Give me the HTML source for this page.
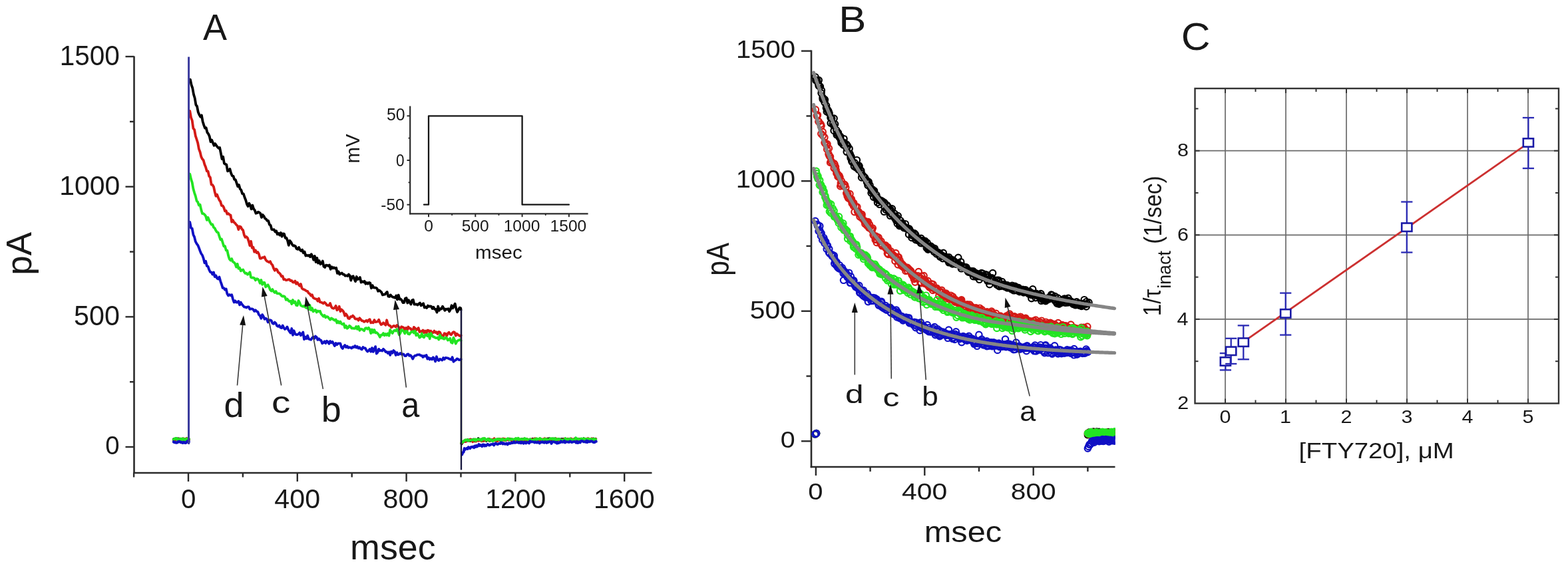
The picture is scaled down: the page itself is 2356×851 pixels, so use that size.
<!DOCTYPE html>
<html><head><meta charset="utf-8"><title>FTY720 inactivation figure</title>
<style>
html,body{margin:0;padding:0;background:#fff;}
body{width:2356px;height:851px;overflow:hidden;}
svg{display:block;}
text{font-family:'Liberation Sans',Arial,sans-serif;}
</style></head>
<body>
<svg width="2356" height="851" viewBox="0 0 2356 851">
<defs><clipPath id="clipB"><rect x="1150" y="0" width="525.6" height="851"/></clipPath></defs>
<rect width="2356" height="851" fill="#fff"/>
<g id="panelA">
<line x1="201.5" y1="84.5" x2="201.5" y2="712" stroke="#2a2a2a" stroke-width="2.6" />
<line x1="200.2" y1="711" x2="979.5" y2="711" stroke="#2a2a2a" stroke-width="2.6" />
<line x1="188.5" y1="672" x2="201.5" y2="672" stroke="#2a2a2a" stroke-width="2.4" />
<line x1="188.5" y1="476.35" x2="201.5" y2="476.35" stroke="#2a2a2a" stroke-width="2.4" />
<line x1="188.5" y1="280.7" x2="201.5" y2="280.7" stroke="#2a2a2a" stroke-width="2.4" />
<line x1="188.5" y1="85.05" x2="201.5" y2="85.05" stroke="#2a2a2a" stroke-width="2.4" />
<line x1="195" y1="574.17" x2="201.5" y2="574.17" stroke="#2a2a2a" stroke-width="2.4" />
<line x1="195" y1="378.53" x2="201.5" y2="378.53" stroke="#2a2a2a" stroke-width="2.4" />
<line x1="195" y1="182.88" x2="201.5" y2="182.88" stroke="#2a2a2a" stroke-width="2.4" />
<line x1="283" y1="711" x2="283" y2="724" stroke="#2a2a2a" stroke-width="2.4" />
<line x1="446.8" y1="711" x2="446.8" y2="724" stroke="#2a2a2a" stroke-width="2.4" />
<line x1="610.6" y1="711" x2="610.6" y2="724" stroke="#2a2a2a" stroke-width="2.4" />
<line x1="774.4" y1="711" x2="774.4" y2="724" stroke="#2a2a2a" stroke-width="2.4" />
<line x1="938.2" y1="711" x2="938.2" y2="724" stroke="#2a2a2a" stroke-width="2.4" />
<line x1="201.1" y1="711" x2="201.1" y2="717.5" stroke="#2a2a2a" stroke-width="2.4" />
<line x1="364.9" y1="711" x2="364.9" y2="717.5" stroke="#2a2a2a" stroke-width="2.4" />
<line x1="528.7" y1="711" x2="528.7" y2="717.5" stroke="#2a2a2a" stroke-width="2.4" />
<line x1="692.5" y1="711" x2="692.5" y2="717.5" stroke="#2a2a2a" stroke-width="2.4" />
<line x1="856.3" y1="711" x2="856.3" y2="717.5" stroke="#2a2a2a" stroke-width="2.4" />
<text transform="matrix(0.9567 0 0 1 89.66 97.68)" font-size="42.40" fill="#181818">1500</text>
<text transform="matrix(0.9888 0 0 1 89.23 292.59)" font-size="41.41" fill="#181818">1000</text>
<text transform="matrix(0.9861 0 0 1 111.05 488.58)" font-size="41.84" fill="#181818">500</text>
<text transform="matrix(1.0042 0 0 1 158.17 682.62)" font-size="38.16" fill="#181818">0</text>
<text transform="matrix(0.9878 0 0 1 271.89 763.89)" font-size="40.71" fill="#181818">0</text>
<text transform="matrix(1.0117 0 0 1 412.37 763.89)" font-size="40.71" fill="#181818">400</text>
<text transform="matrix(1.0000 0 0 1 575.55 764.24)" font-size="41.20" fill="#181818">800</text>
<text transform="matrix(1.0059 0 0 1 729.23 763.89)" font-size="40.71" fill="#181818">1200</text>
<text transform="matrix(1.0129 0 0 1 891.91 763.89)" font-size="40.71" fill="#181818">1600</text>
<text transform="matrix(1.0230 0 0 1 526.07 840.97)" font-size="52.60" fill="#181818">msec</text>
<text transform="matrix(0 -0.9933 1 0 47.39 413.76)" font-size="53.52" fill="#181818">pA</text>
<text transform="matrix(0.9751 0 0 1 305.06 60.20)" font-size="55.42" fill="#181818">A</text>
<polyline points="261.0,660.5 262.5,660.8 264.0,660.3 265.5,659.7 267.0,660.1 268.5,659.6 270.0,660.6 271.5,661.7 273.0,660.1 274.5,659.9 276.0,660.9 277.5,660.8 279.0,660.6 280.5,659.7 282.0,660.5 283.5,661.1 283.6,660.5" fill="none" stroke="#000000" stroke-width="4.4" stroke-linejoin="round" stroke-linecap="round" />
<polyline points="283.6,660.5 283.8,117.7 285.9,119.7" fill="none" stroke="#000000" stroke-width="2.2" stroke-linejoin="round" stroke-linecap="round" />
<polyline points="285.9,119.7 287.6,127.7 289.3,132.5 291.0,142.0 292.7,147.5 294.4,157.7 296.1,160.0 297.8,168.8 299.5,172.6 301.2,175.7 302.9,173.3 304.6,182.7 306.3,188.1 308.0,192.7 309.7,192.3 311.4,199.0 313.1,201.3 314.8,205.1 316.5,213.1 318.2,210.6 319.9,214.7 321.6,218.8 323.3,216.1 325.0,218.8 326.7,220.9 328.4,222.7 330.1,221.9 331.8,230.1 333.5,239.0 335.2,235.8 336.9,245.7 338.6,246.8 340.3,247.5 342.0,257.3 343.7,256.6 345.4,254.1 347.1,260.2 348.8,264.2 350.5,264.7 352.2,269.8 353.9,270.4 355.6,275.3 357.3,280.4 359.0,278.0 360.7,284.0 362.4,285.8 364.1,291.1 365.8,291.3 367.5,296.5 369.2,300.8 370.9,306.8 372.6,310.2 374.3,305.7 376.0,308.9 377.7,314.4 379.4,308.6 381.1,314.0 382.8,316.1 384.5,320.8 386.2,320.3 387.9,318.6 389.6,319.5 391.3,320.9 393.0,326.9 394.7,323.0 396.4,324.9 398.1,328.4 399.8,329.4 401.5,331.8 403.2,332.0 404.9,337.6 406.6,338.8 408.3,345.0 410.0,345.3 411.7,345.1 413.4,348.5 415.1,347.2 416.8,352.3 418.5,350.8 420.2,353.6 421.9,349.9 423.6,355.6 425.3,351.4 427.0,351.7 428.7,357.8 430.4,357.6 432.1,361.8 433.8,368.9 435.5,361.9 437.2,363.9 438.9,367.5 440.6,369.6 442.3,369.2 444.0,370.4 445.7,374.1 447.4,374.9 449.1,371.9 450.8,375.8 452.5,377.3 454.2,375.6 455.9,380.3 457.6,378.5 459.3,384.6 461.0,383.7 462.7,384.6 464.4,383.8 466.1,386.2 467.8,382.2 469.5,385.6 471.2,390.7 472.9,385.0 474.6,394.0 476.3,387.9 478.0,395.5 479.7,392.0 481.4,397.2 483.1,396.2 484.8,392.5 486.5,400.8 488.2,402.0 489.9,398.7 491.6,398.8 493.3,399.9 495.0,398.4 496.7,404.8 498.4,401.2 500.1,403.3 501.8,402.2 503.5,403.6 505.2,402.8 506.9,410.9 508.6,408.3 510.3,412.6 512.0,411.3 513.7,410.5 515.4,412.5 517.1,412.6 518.8,414.8 520.5,414.3 522.2,415.0 523.9,412.5 525.6,414.5 527.3,421.6 529.0,415.8 530.7,415.3 532.4,419.6 534.1,423.1 535.8,416.0 537.5,420.0 539.2,419.5 540.9,417.1 542.6,424.6 544.3,423.2 546.0,424.2 547.7,422.7 549.4,426.8 551.1,424.9 552.8,426.7 554.5,424.9 556.2,425.5 557.9,433.2 559.6,429.1 561.3,432.3 563.0,432.5 564.7,432.6 566.4,433.6 568.1,437.8 569.8,436.4 571.5,437.9 573.2,439.4 574.9,443.4 576.6,442.9 578.3,442.7 580.0,440.6 581.7,438.9 583.4,445.6 585.1,446.0 586.8,443.4 588.5,445.6 590.2,446.6 591.9,447.1 593.6,447.8 595.3,444.5 597.0,450.4 598.7,443.6 600.4,450.0 602.1,449.7 603.8,451.6 605.5,455.1 607.2,454.9 608.9,448.7 610.6,448.0 612.3,455.5 614.0,451.3 615.7,454.6 617.4,457.5 619.1,451.4 620.8,450.7 622.5,457.7 624.2,457.6 625.9,457.4 627.6,458.6 629.3,456.7 631.0,455.4 632.7,459.4 634.4,457.7 636.1,456.3 637.8,462.5 639.5,461.4 641.2,463.0 642.9,459.6 644.6,460.9 646.3,460.3 648.0,460.9 649.7,464.1 651.4,461.7 653.1,464.9 654.8,465.0 656.5,469.6 658.2,460.5 659.9,466.8 661.6,464.2 663.3,464.5 665.0,460.7 666.7,463.4 668.4,466.8 670.1,464.6 671.8,465.1 673.5,464.2 675.2,468.2 676.9,465.1 678.6,459.3 680.3,463.4 682.0,460.1 683.7,456.7 685.4,464.1 687.1,469.2 688.8,465.8 690.5,462.6 692.2,463.3 692.6,465.8" fill="none" stroke="#000000" stroke-width="3.8" stroke-linejoin="round" stroke-linecap="round" />
<line x1="693" y1="465.8" x2="693" y2="667" stroke="#000000" stroke-width="2.2" />
<polyline points="693.5,667.4 694.7,665.4 695.9,664.4 697.1,663.7 698.3,663.3 699.5,663.6 700.7,663.1 701.9,662.6 703.1,661.3 704.3,662.6 705.5,661.4 706.7,662.9 707.9,660.8 709.1,661.7 710.3,661.8 711.5,660.6 712.7,663.3 713.9,663.0 715.1,661.3 716.3,662.4 717.5,662.0 718.7,659.3 719.9,661.9 721.1,661.6 722.3,661.7 723.5,660.6 724.7,661.3 725.9,661.4 727.1,662.6 728.3,661.9 729.5,661.5 730.7,662.9 731.9,661.0 733.1,661.2 734.3,659.9 735.5,662.9 736.7,662.4 737.9,662.3 739.1,662.1 740.3,661.6 741.5,661.6 742.7,661.2 743.9,661.2 745.1,661.5 746.3,662.8 747.5,661.9 748.7,661.3 749.9,660.9 751.1,660.8 752.3,662.8 753.5,661.8 754.7,661.4 755.9,661.0 757.1,660.3 758.3,661.3 759.5,662.1 760.7,661.0 761.9,661.1 763.1,661.1 764.3,661.4 765.5,659.9 766.7,661.1 767.9,660.5 769.1,662.1 770.3,660.6 771.5,661.8 772.7,662.6 773.9,661.0 775.1,660.7 776.3,661.4 777.5,661.2 778.7,660.3 779.9,661.6 781.1,663.0 782.3,661.0 783.5,661.0 784.7,660.3 785.9,661.5 787.1,660.1 788.3,660.2 789.5,662.4 790.7,660.4 791.9,662.2 793.1,662.6 794.3,661.4 795.5,661.7 796.7,662.9 797.9,661.0 799.1,660.6 800.3,659.9 801.5,661.2 802.7,662.5 803.9,662.0 805.1,660.3 806.3,660.4 807.5,660.7 808.7,661.4 809.9,661.0 811.1,661.3 812.3,661.4 813.5,660.9 814.7,661.1 815.9,661.3 817.1,661.1 818.3,661.6 819.5,662.8 820.7,661.7 821.9,661.2 823.1,659.6 824.3,661.5 825.5,659.4 826.7,659.8 827.9,661.9 829.1,661.7 830.3,661.0 831.5,659.6 832.7,660.8 833.9,660.5 835.1,661.7 836.3,663.1 837.5,661.3 838.7,660.4 839.9,660.0 841.1,661.0 842.3,660.9 843.5,660.0 844.7,661.2 845.9,660.0 847.1,662.1 848.3,662.0 849.5,662.0 850.7,660.6 851.9,661.5 853.1,661.0 854.3,660.7 855.5,660.8 856.7,659.9 857.9,659.8 859.1,661.8 860.3,660.9 861.5,661.3 862.7,662.0 863.9,659.5 865.1,660.4 866.3,661.2 867.5,661.4 868.7,660.7 869.9,662.0 871.1,661.2 872.3,660.0 873.5,660.2 874.7,661.8 875.9,661.5 877.1,659.3 878.3,662.3 879.5,661.6 880.7,662.3 881.9,660.7 883.1,660.8 884.3,660.0 885.5,663.3 886.7,660.9 887.9,662.5 889.1,660.5 890.3,661.2 891.5,659.5 892.7,660.7 893.9,661.9 895.1,659.9" fill="none" stroke="#000000" stroke-width="4.0" stroke-linejoin="round" stroke-linecap="round" />
<polyline points="261.0,661.8 262.5,661.1 264.0,659.9 265.5,660.3 267.0,660.4 268.5,660.8 270.0,660.3 271.5,660.1 273.0,660.5 274.5,659.9 276.0,659.6 277.5,660.8 279.0,661.6 280.5,659.4 282.0,660.8 283.5,660.2 283.6,660.8" fill="none" stroke="#d41a16" stroke-width="4.4" stroke-linejoin="round" stroke-linecap="round" />
<polyline points="283.6,660.8 283.8,165.0 285.3,167.0" fill="none" stroke="#d41a16" stroke-width="2.2" stroke-linejoin="round" stroke-linecap="round" />
<polyline points="285.3,167.0 287.0,176.6 288.7,181.1 290.4,192.9 292.1,194.9 293.8,204.3 295.5,209.5 297.2,214.9 298.9,224.1 300.6,228.5 302.3,235.6 304.0,239.1 305.7,241.1 307.4,247.2 309.1,251.3 310.8,257.3 312.5,257.5 314.2,264.7 315.9,266.7 317.6,277.4 319.3,278.1 321.0,280.7 322.7,288.5 324.4,294.8 326.1,292.6 327.8,296.9 329.5,300.8 331.2,303.0 332.9,309.1 334.6,309.3 336.3,312.1 338.0,317.4 339.7,316.9 341.4,321.8 343.1,321.0 344.8,322.7 346.5,323.4 348.2,333.7 349.9,331.0 351.6,334.3 353.3,335.6 355.0,337.8 356.7,339.3 358.4,345.1 360.1,340.4 361.8,341.2 363.5,344.5 365.2,346.1 366.9,353.4 368.6,356.8 370.3,356.0 372.0,357.8 373.7,362.8 375.4,369.4 377.1,362.8 378.8,372.7 380.5,371.7 382.2,378.7 383.9,376.2 385.6,380.0 387.3,379.1 389.0,381.9 390.7,388.5 392.4,388.6 394.1,387.2 395.8,387.3 397.5,386.2 399.2,390.6 400.9,392.5 402.6,393.4 404.3,394.3 406.0,393.1 407.7,396.7 409.4,398.5 411.1,403.3 412.8,406.7 414.5,404.5 416.2,405.4 417.9,409.3 419.6,410.4 421.3,412.3 423.0,415.7 424.7,415.3 426.4,420.3 428.1,419.8 429.8,421.3 431.5,421.0 433.2,420.2 434.9,420.2 436.6,422.2 438.3,422.0 440.0,424.3 441.7,424.5 443.4,422.4 445.1,426.7 446.8,424.7 448.5,427.6 450.2,429.7 451.9,427.1 453.6,433.3 455.3,434.8 457.0,435.4 458.7,436.2 460.4,437.7 462.1,437.9 463.8,440.9 465.5,441.7 467.2,444.6 468.9,443.2 470.6,447.7 472.3,448.7 474.0,449.3 475.7,449.6 477.4,452.7 479.1,448.7 480.8,454.2 482.5,454.5 484.2,455.3 485.9,456.2 487.6,454.6 489.3,456.1 491.0,458.8 492.7,459.0 494.4,459.1 496.1,456.0 497.8,461.2 499.5,463.3 501.2,463.8 502.9,462.9 504.6,459.8 506.3,466.3 508.0,464.9 509.7,460.7 511.4,468.2 513.1,465.3 514.8,466.8 516.5,469.4 518.2,474.7 519.9,472.1 521.6,474.5 523.3,478.7 525.0,479.1 526.7,476.1 528.4,476.3 530.1,474.6 531.8,476.3 533.5,479.3 535.2,479.6 536.9,479.4 538.6,481.7 540.3,478.2 542.0,480.2 543.7,482.3 545.4,482.4 547.1,483.9 548.8,482.9 550.5,481.8 552.2,483.7 553.9,481.2 555.6,480.2 557.3,485.4 559.0,484.3 560.7,485.3 562.4,481.1 564.1,484.2 565.8,483.9 567.5,483.5 569.2,480.7 570.9,485.1 572.6,488.1 574.3,487.2 576.0,485.3 577.7,486.9 579.4,488.8 581.1,481.3 582.8,487.4 584.5,489.2 586.2,489.8 587.9,492.3 589.6,491.4 591.3,489.9 593.0,490.2 594.7,491.6 596.4,489.0 598.1,490.5 599.8,492.9 601.5,495.6 603.2,491.3 604.9,491.9 606.6,492.8 608.3,495.6 610.0,492.9 611.7,496.6 613.4,491.5 615.1,493.6 616.8,493.9 618.5,496.3 620.2,497.2 621.9,491.9 623.6,493.5 625.3,496.6 627.0,494.7 628.7,493.1 630.4,499.0 632.1,498.1 633.8,498.4 635.5,496.5 637.2,500.1 638.9,497.6 640.6,500.7 642.3,496.6 644.0,496.9 645.7,499.4 647.4,497.6 649.1,500.8 650.8,500.1 652.5,497.6 654.2,500.0 655.9,499.2 657.6,502.2 659.3,498.9 661.0,499.5 662.7,503.3 664.4,505.7 666.1,505.3 667.8,501.2 669.5,501.7 671.2,504.8 672.9,501.4 674.6,499.7 676.3,502.3 678.0,503.3 679.7,500.7 681.4,499.1 683.1,499.8 684.8,504.7 686.5,501.8 688.2,503.4 689.9,504.4 691.6,505.5 692.6,504.3" fill="none" stroke="#d41a16" stroke-width="3.8" stroke-linejoin="round" stroke-linecap="round" />
<line x1="693" y1="504.3" x2="693" y2="667" stroke="#d41a16" stroke-width="2.2" />
<polyline points="693.5,666.1 694.7,665.7 695.9,663.6 697.1,663.4 698.3,662.3 699.5,663.9 700.7,662.6 701.9,661.7 703.1,661.9 704.3,661.9 705.5,662.7 706.7,660.5 707.9,661.0 709.1,661.5 710.3,664.1 711.5,662.6 712.7,661.7 713.9,662.4 715.1,663.6 716.3,661.5 717.5,661.3 718.7,662.8 719.9,662.1 721.1,662.2 722.3,661.2 723.5,663.3 724.7,663.1 725.9,662.1 727.1,662.2 728.3,659.7 729.5,662.1 730.7,661.4 731.9,661.9 733.1,662.1 734.3,661.2 735.5,660.0 736.7,661.8 737.9,660.8 739.1,661.2 740.3,660.9 741.5,661.1 742.7,659.4 743.9,662.5 745.1,661.6 746.3,662.4 747.5,663.2 748.7,661.4 749.9,659.8 751.1,660.6 752.3,660.3 753.5,660.9 754.7,661.4 755.9,659.5 757.1,661.7 758.3,660.0 759.5,661.6 760.7,661.2 761.9,661.0 763.1,661.2 764.3,660.8 765.5,660.7 766.7,659.8 767.9,661.3 769.1,662.9 770.3,663.1 771.5,662.5 772.7,661.9 773.9,660.7 775.1,662.6 776.3,661.2 777.5,661.2 778.7,661.0 779.9,661.3 781.1,660.8 782.3,661.2 783.5,660.2 784.7,660.9 785.9,663.3 787.1,661.1 788.3,661.0 789.5,661.7 790.7,661.8 791.9,660.2 793.1,661.0 794.3,662.0 795.5,661.4 796.7,661.3 797.9,662.6 799.1,660.6 800.3,661.2 801.5,660.7 802.7,662.5 803.9,659.4 805.1,660.6 806.3,660.7 807.5,661.7 808.7,661.7 809.9,662.4 811.1,659.7 812.3,661.8 813.5,660.9 814.7,660.5 815.9,661.6 817.1,660.3 818.3,659.3 819.5,660.8 820.7,659.8 821.9,660.5 823.1,661.4 824.3,661.4 825.5,662.5 826.7,660.9 827.9,659.7 829.1,660.4 830.3,660.3 831.5,660.0 832.7,661.5 833.9,660.5 835.1,659.3 836.3,661.7 837.5,661.0 838.7,661.4 839.9,661.2 841.1,661.7 842.3,661.1 843.5,662.2 844.7,661.5 845.9,661.4 847.1,661.4 848.3,659.8 849.5,660.9 850.7,660.8 851.9,661.3 853.1,659.8 854.3,662.5 855.5,661.2 856.7,660.0 857.9,659.5 859.1,660.8 860.3,661.0 861.5,660.4 862.7,661.1 863.9,660.5 865.1,661.6 866.3,660.4 867.5,661.0 868.7,661.9 869.9,663.4 871.1,660.1 872.3,660.6 873.5,660.3 874.7,661.8 875.9,660.0 877.1,660.6 878.3,661.0 879.5,660.2 880.7,660.2 881.9,660.6 883.1,659.2 884.3,659.7 885.5,660.7 886.7,661.2 887.9,660.9 889.1,659.4 890.3,660.6 891.5,661.8 892.7,661.5 893.9,661.0 895.1,660.2" fill="none" stroke="#d41a16" stroke-width="4.0" stroke-linejoin="round" stroke-linecap="round" />
<polyline points="261.0,660.8 262.5,659.7 264.0,659.1 265.5,659.5 267.0,661.5 268.5,660.4 270.0,661.2 271.5,659.8 273.0,661.0 274.5,659.7 276.0,660.1 277.5,662.4 279.0,660.9 280.5,659.7 282.0,660.1 283.5,660.5 283.6,660.2" fill="none" stroke="#22e422" stroke-width="4.4" stroke-linejoin="round" stroke-linecap="round" />
<polyline points="283.6,660.2 283.8,259.6 285.3,261.6" fill="none" stroke="#22e422" stroke-width="2.2" stroke-linejoin="round" stroke-linecap="round" />
<polyline points="285.3,261.6 287.0,269.2 288.7,274.4 290.4,283.9 292.1,289.8 293.8,294.9 295.5,301.9 297.2,303.8 298.9,308.6 300.6,307.8 302.3,315.4 304.0,321.2 305.7,321.2 307.4,322.6 309.1,324.9 310.8,330.8 312.5,327.0 314.2,331.1 315.9,334.6 317.6,337.5 319.3,337.4 321.0,341.7 322.7,343.1 324.4,346.7 326.1,349.0 327.8,349.7 329.5,355.1 331.2,360.2 332.9,359.4 334.6,364.6 336.3,370.3 338.0,370.1 339.7,376.3 341.4,376.7 343.1,384.3 344.8,389.6 346.5,391.5 348.2,389.1 349.9,393.6 351.6,394.4 353.3,396.4 355.0,401.5 356.7,396.9 358.4,403.7 360.1,402.8 361.8,407.4 363.5,406.1 365.2,405.4 366.9,408.8 368.6,411.0 370.3,410.6 372.0,412.7 373.7,411.6 375.4,409.2 377.1,417.0 378.8,417.6 380.5,417.5 382.2,418.3 383.9,421.4 385.6,419.1 387.3,419.5 389.0,421.6 390.7,425.7 392.4,421.0 394.1,427.8 395.8,424.9 397.5,425.0 399.2,431.4 400.9,429.7 402.6,428.3 404.3,431.6 406.0,435.7 407.7,437.5 409.4,435.1 411.1,438.1 412.8,439.9 414.5,438.0 416.2,441.2 417.9,441.4 419.6,441.4 421.3,442.5 423.0,444.7 424.7,445.6 426.4,445.2 428.1,446.4 429.8,450.7 431.5,449.5 433.2,451.8 434.9,453.2 436.6,452.6 438.3,457.1 440.0,451.0 441.7,455.3 443.4,453.5 445.1,459.0 446.8,459.3 448.5,452.0 450.2,454.9 451.9,459.2 453.6,460.2 455.3,460.8 457.0,459.8 458.7,461.7 460.4,463.0 462.1,462.1 463.8,465.4 465.5,458.9 467.2,466.1 468.9,463.2 470.6,468.4 472.3,466.6 474.0,465.9 475.7,469.5 477.4,467.5 479.1,468.3 480.8,467.7 482.5,471.9 484.2,473.8 485.9,475.8 487.6,474.0 489.3,477.4 491.0,476.0 492.7,476.6 494.4,478.8 496.1,480.7 497.8,478.5 499.5,479.5 501.2,480.5 502.9,481.8 504.6,480.4 506.3,485.5 508.0,483.1 509.7,485.7 511.4,483.6 513.1,486.9 514.8,487.7 516.5,486.6 518.2,492.7 519.9,489.9 521.6,493.7 523.3,492.6 525.0,489.8 526.7,491.1 528.4,493.6 530.1,493.4 531.8,493.9 533.5,493.8 535.2,490.9 536.9,494.8 538.6,490.8 540.3,496.8 542.0,494.6 543.7,494.8 545.4,496.0 547.1,497.3 548.8,493.6 550.5,493.1 552.2,494.7 553.9,492.7 555.6,495.2 557.3,501.1 559.0,495.5 560.7,499.7 562.4,495.9 564.1,500.4 565.8,499.9 567.5,501.4 569.2,503.6 570.9,506.8 572.6,503.7 574.3,503.7 576.0,501.1 577.7,504.3 579.4,502.0 581.1,503.9 582.8,501.4 584.5,504.7 586.2,495.9 587.9,499.1 589.6,501.1 591.3,497.9 593.0,496.6 594.7,497.5 596.4,495.0 598.1,498.3 599.8,503.5 601.5,500.8 603.2,496.0 604.9,496.8 606.6,498.1 608.3,501.5 610.0,497.8 611.7,498.4 613.4,502.2 615.1,502.5 616.8,500.2 618.5,498.9 620.2,498.3 621.9,500.5 623.6,497.4 625.3,504.3 627.0,501.5 628.7,504.2 630.4,507.6 632.1,506.4 633.8,501.5 635.5,506.3 637.2,507.2 638.9,503.3 640.6,503.2 642.3,505.3 644.0,502.3 645.7,509.4 647.4,501.1 649.1,504.2 650.8,506.3 652.5,506.7 654.2,507.8 655.9,508.2 657.6,507.4 659.3,510.6 661.0,503.6 662.7,508.5 664.4,507.2 666.1,509.3 667.8,509.7 669.5,507.4 671.2,508.2 672.9,511.6 674.6,510.8 676.3,508.7 678.0,514.9 679.7,515.7 681.4,507.6 683.1,511.6 684.8,516.7 686.5,513.1 688.2,512.0 689.9,511.2 691.6,510.6 692.6,511.9" fill="none" stroke="#22e422" stroke-width="3.8" stroke-linejoin="round" stroke-linecap="round" />
<line x1="693" y1="511.9" x2="693" y2="667" stroke="#22e422" stroke-width="2.2" />
<polyline points="693.5,665.7 694.7,664.2 695.9,664.5 697.1,662.9 698.3,662.3 699.5,661.3 700.7,662.1 701.9,661.1 703.1,661.6 704.3,662.6 705.5,661.9 706.7,661.9 707.9,661.7 709.1,661.4 710.3,661.2 711.5,661.0 712.7,661.9 713.9,660.3 715.1,662.4 716.3,661.2 717.5,660.5 718.7,660.7 719.9,660.5 721.1,661.3 722.3,660.5 723.5,662.1 724.7,660.4 725.9,659.0 727.1,660.4 728.3,659.2 729.5,661.0 730.7,662.0 731.9,661.6 733.1,659.8 734.3,660.3 735.5,662.6 736.7,661.3 737.9,661.0 739.1,661.9 740.3,663.2 741.5,662.1 742.7,661.1 743.9,661.2 745.1,661.5 746.3,660.4 747.5,660.0 748.7,660.9 749.9,660.0 751.1,660.8 752.3,661.0 753.5,663.0 754.7,660.1 755.9,660.7 757.1,660.7 758.3,661.2 759.5,661.8 760.7,660.4 761.9,660.1 763.1,659.3 764.3,660.0 765.5,661.3 766.7,660.8 767.9,659.9 769.1,660.4 770.3,660.8 771.5,661.2 772.7,660.2 773.9,660.5 775.1,659.1 776.3,659.7 777.5,662.2 778.7,658.8 779.9,660.4 781.1,660.9 782.3,660.4 783.5,660.0 784.7,660.7 785.9,660.7 787.1,660.6 788.3,659.0 789.5,660.6 790.7,659.9 791.9,660.2 793.1,660.9 794.3,661.3 795.5,661.5 796.7,660.2 797.9,661.5 799.1,661.7 800.3,661.7 801.5,661.9 802.7,660.5 803.9,660.5 805.1,661.4 806.3,659.4 807.5,660.8 808.7,660.2 809.9,660.3 811.1,659.1 812.3,659.8 813.5,660.6 814.7,661.4 815.9,661.5 817.1,660.6 818.3,660.5 819.5,659.9 820.7,661.0 821.9,660.4 823.1,661.2 824.3,662.2 825.5,660.6 826.7,659.3 827.9,659.8 829.1,659.3 830.3,659.5 831.5,661.8 832.7,660.8 833.9,659.2 835.1,661.2 836.3,661.7 837.5,660.3 838.7,660.0 839.9,660.3 841.1,660.8 842.3,661.2 843.5,661.6 844.7,661.7 845.9,661.6 847.1,661.8 848.3,661.2 849.5,659.2 850.7,660.5 851.9,660.9 853.1,660.2 854.3,661.4 855.5,660.2 856.7,659.7 857.9,661.9 859.1,661.2 860.3,660.8 861.5,661.4 862.7,661.5 863.9,660.9 865.1,658.3 866.3,659.9 867.5,660.1 868.7,659.7 869.9,660.7 871.1,661.6 872.3,660.1 873.5,659.5 874.7,662.4 875.9,660.1 877.1,659.4 878.3,660.8 879.5,660.9 880.7,659.9 881.9,661.3 883.1,660.1 884.3,659.7 885.5,660.7 886.7,661.2 887.9,660.0 889.1,660.8 890.3,660.5 891.5,663.1 892.7,659.9 893.9,661.8 895.1,660.5" fill="none" stroke="#22e422" stroke-width="4.0" stroke-linejoin="round" stroke-linecap="round" />
<polyline points="261.0,664.4 262.5,665.1 264.0,665.3 265.5,665.6 267.0,664.8 268.5,664.0 270.0,664.0 271.5,665.0 273.0,665.0 274.5,665.8 276.0,664.9 277.5,665.5 279.0,665.9 280.5,664.6 282.0,663.2 283.5,663.4 283.6,664.5" fill="none" stroke="#1010c4" stroke-width="4.4" stroke-linejoin="round" stroke-linecap="round" />
<polyline points="283.6,664.5 283.8,332.0 285.3,334.0" fill="none" stroke="#1010c4" stroke-width="2.2" stroke-linejoin="round" stroke-linecap="round" />
<polyline points="285.3,334.0 287.0,342.7 288.7,343.5 290.4,352.7 292.1,356.4 293.8,363.2 295.5,366.3 297.2,368.6 298.9,372.6 300.6,377.2 302.3,381.2 304.0,383.7 305.7,388.4 307.4,395.3 309.1,392.7 310.8,399.8 312.5,400.7 314.2,405.5 315.9,409.0 317.6,409.3 319.3,412.5 321.0,409.5 322.7,416.1 324.4,414.3 326.1,418.3 327.8,419.4 329.5,416.4 331.2,422.6 332.9,427.4 334.6,432.9 336.3,433.2 338.0,435.5 339.7,434.4 341.4,441.8 343.1,444.4 344.8,442.9 346.5,444.2 348.2,443.2 349.9,449.6 351.6,454.5 353.3,452.2 355.0,454.6 356.7,454.6 358.4,452.9 360.1,458.4 361.8,454.6 363.5,457.6 365.2,459.5 366.9,461.6 368.6,461.6 370.3,462.5 372.0,461.3 373.7,461.3 375.4,464.8 377.1,464.4 378.8,464.3 380.5,465.4 382.2,467.9 383.9,466.3 385.6,468.3 387.3,468.8 389.0,473.2 390.7,474.7 392.4,478.8 394.1,473.1 395.8,475.7 397.5,479.8 399.2,478.7 400.9,479.6 402.6,484.5 404.3,481.7 406.0,481.2 407.7,481.9 409.4,486.0 411.1,486.9 412.8,484.6 414.5,486.2 416.2,489.9 417.9,490.8 419.6,489.3 421.3,492.4 423.0,493.1 424.7,489.4 426.4,492.9 428.1,495.0 429.8,493.8 431.5,491.5 433.2,495.7 434.9,498.3 436.6,500.6 438.3,494.0 440.0,503.8 441.7,497.3 443.4,501.9 445.1,503.1 446.8,503.2 448.5,502.2 450.2,500.3 451.9,504.3 453.6,502.3 455.3,499.4 457.0,510.1 458.7,506.6 460.4,509.2 462.1,504.6 463.8,509.6 465.5,510.3 467.2,510.8 468.9,508.3 470.6,506.5 472.3,508.9 474.0,505.6 475.7,507.0 477.4,510.9 479.1,509.3 480.8,511.3 482.5,511.9 484.2,516.2 485.9,515.4 487.6,513.3 489.3,516.1 491.0,512.7 492.7,514.0 494.4,516.8 496.1,513.1 497.8,515.3 499.5,513.7 501.2,516.8 502.9,520.1 504.6,515.9 506.3,518.2 508.0,516.4 509.7,516.3 511.4,516.5 513.1,522.0 514.8,524.1 516.5,520.9 518.2,519.0 519.9,522.0 521.6,520.4 523.3,522.9 525.0,522.2 526.7,522.5 528.4,523.5 530.1,521.5 531.8,522.1 533.5,519.9 535.2,522.6 536.9,521.0 538.6,523.6 540.3,522.3 542.0,524.5 543.7,525.4 545.4,522.0 547.1,523.4 548.8,523.3 550.5,526.6 552.2,528.6 553.9,527.1 555.6,525.0 557.3,528.6 559.0,523.1 560.7,528.9 562.4,525.0 564.1,521.1 565.8,531.6 567.5,529.7 569.2,524.9 570.9,527.3 572.6,526.8 574.3,527.6 576.0,524.8 577.7,526.5 579.4,529.0 581.1,528.8 582.8,531.0 584.5,529.2 586.2,533.9 587.9,528.5 589.6,530.7 591.3,527.0 593.0,528.7 594.7,534.0 596.4,530.1 598.1,533.3 599.8,532.5 601.5,530.9 603.2,532.5 604.9,532.4 606.6,532.7 608.3,535.2 610.0,535.1 611.7,532.9 613.4,532.4 615.1,534.8 616.8,534.1 618.5,536.4 620.2,539.6 621.9,536.2 623.6,534.6 625.3,534.5 627.0,533.3 628.7,533.3 630.4,533.2 632.1,534.5 633.8,534.6 635.5,537.0 637.2,535.0 638.9,535.6 640.6,533.9 642.3,539.6 644.0,537.7 645.7,540.4 647.4,538.8 649.1,540.4 650.8,537.3 652.5,539.4 654.2,543.4 655.9,536.2 657.6,541.0 659.3,542.1 661.0,539.8 662.7,540.6 664.4,541.6 666.1,538.0 667.8,540.2 669.5,537.8 671.2,538.2 672.9,538.4 674.6,539.4 676.3,540.0 678.0,540.7 679.7,537.1 681.4,543.8 683.1,542.2 684.8,541.4 686.5,539.4 688.2,539.9 689.9,541.2 691.6,540.9 692.6,540.1" fill="none" stroke="#1010c4" stroke-width="3.8" stroke-linejoin="round" stroke-linecap="round" />
<polyline points="694.2,683.5 695.4,680.4 696.6,679.8 697.8,674.1 699.0,675.9 700.2,674.8 701.4,674.0 702.6,675.0 703.8,672.4 705.0,673.3 706.2,674.2 707.4,672.4 708.6,672.0 709.8,672.2 711.0,671.5 712.2,673.1 713.4,670.6 714.6,672.0 715.8,669.9 717.0,671.4 718.2,670.5 719.4,668.0 720.6,670.2 721.8,669.1 723.0,669.5 724.2,671.1 725.4,668.5 726.6,668.4 727.8,670.6 729.0,669.2 730.2,670.4 731.4,669.1 732.6,667.9 733.8,668.5 735.0,669.6 736.2,669.2 737.4,668.2 738.6,668.1 739.8,667.9 741.0,667.3 742.2,669.5 743.4,667.7 744.6,666.5 745.8,667.0 747.0,668.0 748.2,667.9 749.4,667.1 750.6,666.5 751.8,667.0 753.0,665.4 754.2,665.7 755.4,667.5 756.6,666.3 757.8,667.0 759.0,667.7 760.2,667.1 761.4,666.5 762.6,668.4 763.8,667.0 765.0,666.0 766.2,666.9 767.4,666.6 768.6,665.3 769.8,666.1 771.0,665.9 772.2,664.2 773.4,665.8 774.6,665.6 775.8,665.4 777.0,664.3 778.2,665.4 779.4,665.7 780.6,665.8 781.8,664.6 783.0,666.2 784.2,664.5 785.4,665.3 786.6,666.7 787.8,664.8 789.0,665.0 790.2,666.4 791.4,665.0 792.6,665.1 793.8,665.5 795.0,666.3 796.2,663.2 797.4,664.5 798.6,664.3 799.8,664.2 801.0,664.4 802.2,664.4 803.4,665.4 804.6,664.3 805.8,665.2 807.0,665.5 808.2,664.4 809.4,665.2 810.6,666.5 811.8,665.3 813.0,664.4 814.2,664.9 815.4,664.1 816.6,665.2 817.8,665.7 819.0,664.2 820.2,664.7 821.4,665.9 822.6,664.4 823.8,665.1 825.0,663.9 826.2,664.1 827.4,664.4 828.6,666.8 829.8,664.5 831.0,664.3 832.2,664.3 833.4,664.6 834.6,665.4 835.8,664.9 837.0,666.6 838.2,665.0 839.4,666.1 840.6,665.0 841.8,665.3 843.0,663.4 844.2,664.6 845.4,664.7 846.6,664.5 847.8,662.8 849.0,665.5 850.2,664.3 851.4,664.3 852.6,664.4 853.8,664.5 855.0,665.0 856.2,663.5 857.4,663.8 858.6,664.9 859.8,664.8 861.0,664.3 862.2,664.1 863.4,663.9 864.6,664.6 865.8,665.7 867.0,663.7 868.2,666.0 869.4,665.4 870.6,664.2 871.8,665.3 873.0,663.3 874.2,663.0 875.4,663.4 876.6,664.2 877.8,664.3 879.0,664.1 880.2,664.7 881.4,662.7 882.6,665.0 883.8,663.3 885.0,664.0 886.2,664.2 887.4,663.5 888.6,663.3 889.8,663.7 891.0,664.6 892.2,665.1 893.4,665.1 894.6,663.7 895.8,663.8" fill="none" stroke="#1010c4" stroke-width="4.0" stroke-linejoin="round" stroke-linecap="round" />
<line x1="693" y1="465.8" x2="693" y2="706.5" stroke="#16163c" stroke-width="2.3" />
<line x1="283.6" y1="85.5" x2="283.6" y2="668" stroke="#3b3b9e" stroke-width="3.0" />
<line x1="356.5" y1="579.5" x2="364.83" y2="486.95" stroke="#3a3a3a" stroke-width="1.6" />
<polygon points="366.0,474.0 369.1,489.3 360.2,488.5" fill="#111"/>
<line x1="422.7" y1="579.5" x2="396.93" y2="443.77" stroke="#3a3a3a" stroke-width="1.6" />
<polygon points="394.5,431.0 401.7,444.9 392.9,446.6" fill="#111"/>
<line x1="485.4" y1="584.9" x2="461.6" y2="458.48" stroke="#3a3a3a" stroke-width="1.6" />
<polygon points="459.2,445.7 466.4,459.6 457.6,461.3" fill="#111"/>
<line x1="610.4" y1="582.6" x2="595.24" y2="463.6" stroke="#3a3a3a" stroke-width="1.6" />
<polygon points="593.6,450.7 600.0,465.0 591.0,466.1" fill="#111"/>
<text transform="matrix(1.0528 0 0 1 336.60 627.49)" font-size="51.29" fill="#181818">d</text>
<text transform="matrix(1.2088 0 0 1 408.09 620.93)" font-size="46.94" fill="#181818">c</text>
<text transform="matrix(1.0125 0 0 1 482.69 634.37)" font-size="53.33" fill="#181818">b</text>
<text transform="matrix(0.8919 0 0 1 603.24 627.26)" font-size="54.43" fill="#181818">a</text>
<line x1="616.2" y1="159.5" x2="616.2" y2="322.3" stroke="#2a2a2a" stroke-width="2.2" />
<line x1="615.1" y1="321.3" x2="883.6" y2="321.3" stroke="#2a2a2a" stroke-width="2.2" />
<line x1="611.5" y1="307.73" x2="616.2" y2="307.73" stroke="#2a2a2a" stroke-width="2.0" />
<line x1="611.5" y1="241" x2="616.2" y2="241" stroke="#2a2a2a" stroke-width="2.0" />
<line x1="611.5" y1="174.28" x2="616.2" y2="174.28" stroke="#2a2a2a" stroke-width="2.0" />
<line x1="613.5" y1="274.36" x2="616.2" y2="274.36" stroke="#2a2a2a" stroke-width="1.8" />
<line x1="613.5" y1="207.64" x2="616.2" y2="207.64" stroke="#2a2a2a" stroke-width="1.8" />
<line x1="644" y1="321.3" x2="644" y2="326.2" stroke="#2a2a2a" stroke-width="2.0" />
<line x1="714.3" y1="321.3" x2="714.3" y2="326.2" stroke="#2a2a2a" stroke-width="2.0" />
<line x1="784.6" y1="321.3" x2="784.6" y2="326.2" stroke="#2a2a2a" stroke-width="2.0" />
<line x1="854.9" y1="321.3" x2="854.9" y2="326.2" stroke="#2a2a2a" stroke-width="2.0" />
<line x1="679.15" y1="321.3" x2="679.15" y2="324" stroke="#2a2a2a" stroke-width="1.8" />
<line x1="749.45" y1="321.3" x2="749.45" y2="324" stroke="#2a2a2a" stroke-width="1.8" />
<line x1="819.75" y1="321.3" x2="819.75" y2="324" stroke="#2a2a2a" stroke-width="1.8" />
<polyline points="637.0,307.7 644.0,307.7 644.0,174.3 784.6,174.3 784.6,307.7 854.9,307.7" fill="none" stroke="#151515" stroke-width="2.3" stroke-linejoin="round" stroke-linecap="round" stroke-linecap="butt" stroke-linejoin="miter"/>
<text transform="matrix(0.9893 0 0 1 580.90 181.25)" font-size="25.16" fill="#181818">50</text>
<text transform="matrix(0.8990 0 0 1 594.90 249.55)" font-size="25.16" fill="#181818">0</text>
<text transform="matrix(0.9879 0 0 1 572.32 316.10)" font-size="24.80" fill="#181818">-50</text>
<text transform="matrix(0.9919 0 0 1 637.24 347.90)" font-size="24.80" fill="#181818">0</text>
<text transform="matrix(0.9919 0 0 1 693.66 347.90)" font-size="24.80" fill="#181818">500</text>
<text transform="matrix(0.9919 0 0 1 756.70 347.90)" font-size="24.80" fill="#181818">1000</text>
<text transform="matrix(0.9919 0 0 1 826.60 347.90)" font-size="24.80" fill="#181818">1500</text>
<text transform="matrix(1.0518 0 0 1 714.00 389.32)" font-size="28.13" fill="#181818">msec</text>
<text transform="matrix(0 -0.9702 1 0 540.40 245.38)" font-size="30.25" fill="#181818">mV</text>
</g>
<g id="panelB">
<line x1="1219" y1="75.5" x2="1219" y2="703.2" stroke="#2a2a2a" stroke-width="2.6" />
<line x1="1217.7" y1="702" x2="1675.5" y2="702" stroke="#2a2a2a" stroke-width="2.6" />
<line x1="1204" y1="663.3" x2="1219" y2="663.3" stroke="#2a2a2a" stroke-width="2.4" />
<line x1="1204" y1="467.75" x2="1219" y2="467.75" stroke="#2a2a2a" stroke-width="2.4" />
<line x1="1204" y1="272.2" x2="1219" y2="272.2" stroke="#2a2a2a" stroke-width="2.4" />
<line x1="1204" y1="76.65" x2="1219" y2="76.65" stroke="#2a2a2a" stroke-width="2.4" />
<line x1="1211.5" y1="565.52" x2="1219" y2="565.52" stroke="#2a2a2a" stroke-width="2.4" />
<line x1="1211.5" y1="369.97" x2="1219" y2="369.97" stroke="#2a2a2a" stroke-width="2.4" />
<line x1="1211.5" y1="174.42" x2="1219" y2="174.42" stroke="#2a2a2a" stroke-width="2.4" />
<line x1="1225.9" y1="702" x2="1225.9" y2="715" stroke="#2a2a2a" stroke-width="2.4" />
<line x1="1389.3" y1="702" x2="1389.3" y2="715" stroke="#2a2a2a" stroke-width="2.4" />
<line x1="1552.7" y1="702" x2="1552.7" y2="715" stroke="#2a2a2a" stroke-width="2.4" />
<line x1="1307.6" y1="702" x2="1307.6" y2="709" stroke="#2a2a2a" stroke-width="2.4" />
<line x1="1471" y1="702" x2="1471" y2="709" stroke="#2a2a2a" stroke-width="2.4" />
<line x1="1634.4" y1="702" x2="1634.4" y2="709" stroke="#2a2a2a" stroke-width="2.4" />
<text transform="matrix(1.0953 0 0 1 1105.89 87.23)" font-size="36.61" fill="#181818">1500</text>
<text transform="matrix(1.1038 0 0 1 1105.79 282.24)" font-size="36.33" fill="#181818">1000</text>
<text transform="matrix(1.1205 0 0 1 1126.73 479.06)" font-size="36.50" fill="#181818">500</text>
<text transform="matrix(1.0967 0 0 1 1172.63 673.24)" font-size="35.90" fill="#181818">0</text>
<text transform="matrix(1.1142 0 0 1 1214.30 751.14)" font-size="35.90" fill="#181818">0</text>
<text transform="matrix(1.1402 0 0 1 1355.08 751.14)" font-size="35.90" fill="#181818">400</text>
<text transform="matrix(1.1352 0 0 1 1518.77 751.14)" font-size="35.90" fill="#181818">800</text>
<text transform="matrix(1.0941 0 0 1 1388.71 814.75)" font-size="44.57" fill="#181818">msec</text>
<text transform="matrix(0 -0.8508 1 0 1094.55 414.65)" font-size="47.93" fill="#181818">pA</text>
<text transform="matrix(1.0914 0 0 1 1260.32 48.00)" font-size="56.44" fill="#181818">B</text>
<g fill="none" stroke="#000000" stroke-width="2.2" clip-path="url(#clipB)"><circle cx="1225.0" cy="115.7" r="4.7"/><circle cx="1227.4" cy="120.7" r="4.7"/><circle cx="1225.9" cy="120.9" r="4.7"/><circle cx="1230.2" cy="120.5" r="4.7"/><circle cx="1229.5" cy="125.6" r="4.7"/><circle cx="1230.2" cy="129.2" r="4.7"/><circle cx="1232.4" cy="130.1" r="4.7"/><circle cx="1234.1" cy="140.1" r="4.7"/><circle cx="1234.4" cy="135.8" r="4.7"/><circle cx="1236.1" cy="146.7" r="4.7"/><circle cx="1236.2" cy="149.2" r="4.7"/><circle cx="1238.4" cy="149.0" r="4.7"/><circle cx="1239.4" cy="149.8" r="4.7"/><circle cx="1239.1" cy="154.2" r="4.7"/><circle cx="1241.6" cy="158.9" r="4.7"/><circle cx="1241.4" cy="162.3" r="4.7"/><circle cx="1242.3" cy="163.4" r="4.7"/><circle cx="1242.3" cy="167.9" r="4.7"/><circle cx="1244.0" cy="165.7" r="4.7"/><circle cx="1246.1" cy="170.5" r="4.7"/><circle cx="1245.0" cy="167.5" r="4.7"/><circle cx="1248.0" cy="176.9" r="4.7"/><circle cx="1248.7" cy="177.4" r="4.7"/><circle cx="1249.7" cy="178.1" r="4.7"/><circle cx="1248.2" cy="185.2" r="4.7"/><circle cx="1251.3" cy="186.2" r="4.7"/><circle cx="1253.1" cy="178.0" r="4.7"/><circle cx="1252.7" cy="188.8" r="4.7"/><circle cx="1254.6" cy="186.6" r="4.7"/><circle cx="1253.1" cy="196.4" r="4.7"/><circle cx="1257.2" cy="202.8" r="4.7"/><circle cx="1256.9" cy="195.9" r="4.7"/><circle cx="1259.5" cy="199.7" r="4.7"/><circle cx="1257.8" cy="200.6" r="4.7"/><circle cx="1261.3" cy="204.3" r="4.7"/><circle cx="1261.4" cy="207.0" r="4.7"/><circle cx="1263.5" cy="210.6" r="4.7"/><circle cx="1262.8" cy="205.4" r="4.7"/><circle cx="1264.1" cy="214.6" r="4.7"/><circle cx="1268.0" cy="208.7" r="4.7"/><circle cx="1265.9" cy="213.8" r="4.7"/><circle cx="1267.1" cy="218.0" r="4.7"/><circle cx="1268.5" cy="218.2" r="4.7"/><circle cx="1268.8" cy="214.8" r="4.7"/><circle cx="1272.0" cy="217.1" r="4.7"/><circle cx="1273.6" cy="219.5" r="4.7"/><circle cx="1272.2" cy="222.6" r="4.7"/><circle cx="1272.2" cy="228.3" r="4.7"/><circle cx="1276.1" cy="223.4" r="4.7"/><circle cx="1277.0" cy="231.1" r="4.7"/><circle cx="1277.8" cy="233.9" r="4.7"/><circle cx="1279.1" cy="235.8" r="4.7"/><circle cx="1278.1" cy="237.5" r="4.7"/><circle cx="1279.9" cy="242.5" r="4.7"/><circle cx="1279.7" cy="241.2" r="4.7"/><circle cx="1280.7" cy="244.0" r="4.7"/><circle cx="1284.1" cy="244.8" r="4.7"/><circle cx="1283.4" cy="250.2" r="4.7"/><circle cx="1287.4" cy="240.7" r="4.7"/><circle cx="1286.2" cy="251.9" r="4.7"/><circle cx="1286.5" cy="249.0" r="4.7"/><circle cx="1289.0" cy="250.6" r="4.7"/><circle cx="1291.0" cy="250.1" r="4.7"/><circle cx="1290.7" cy="249.1" r="4.7"/><circle cx="1290.0" cy="255.1" r="4.7"/><circle cx="1292.7" cy="255.8" r="4.7"/><circle cx="1294.7" cy="260.9" r="4.7"/><circle cx="1293.8" cy="256.6" r="4.7"/><circle cx="1294.6" cy="266.9" r="4.7"/><circle cx="1297.4" cy="265.0" r="4.7"/><circle cx="1297.5" cy="265.0" r="4.7"/><circle cx="1297.3" cy="265.3" r="4.7"/><circle cx="1299.1" cy="266.7" r="4.7"/><circle cx="1299.7" cy="267.3" r="4.7"/><circle cx="1301.8" cy="270.8" r="4.7"/><circle cx="1302.6" cy="274.1" r="4.7"/><circle cx="1304.7" cy="275.3" r="4.7"/><circle cx="1305.2" cy="273.4" r="4.7"/><circle cx="1304.0" cy="278.6" r="4.7"/><circle cx="1307.0" cy="278.4" r="4.7"/><circle cx="1308.5" cy="283.3" r="4.7"/><circle cx="1309.1" cy="290.2" r="4.7"/><circle cx="1310.7" cy="288.1" r="4.7"/><circle cx="1310.1" cy="287.0" r="4.7"/><circle cx="1310.7" cy="284.7" r="4.7"/><circle cx="1313.6" cy="286.9" r="4.7"/><circle cx="1312.7" cy="287.6" r="4.7"/><circle cx="1312.6" cy="296.3" r="4.7"/><circle cx="1316.8" cy="293.2" r="4.7"/><circle cx="1316.1" cy="297.0" r="4.7"/><circle cx="1317.5" cy="296.2" r="4.7"/><circle cx="1317.4" cy="299.5" r="4.7"/><circle cx="1318.5" cy="304.6" r="4.7"/><circle cx="1319.7" cy="299.4" r="4.7"/><circle cx="1321.5" cy="301.6" r="4.7"/><circle cx="1323.3" cy="301.2" r="4.7"/><circle cx="1321.6" cy="307.3" r="4.7"/><circle cx="1325.7" cy="302.6" r="4.7"/><circle cx="1324.8" cy="303.3" r="4.7"/><circle cx="1325.9" cy="303.5" r="4.7"/><circle cx="1328.7" cy="304.5" r="4.7"/><circle cx="1329.0" cy="311.1" r="4.7"/><circle cx="1328.5" cy="318.3" r="4.7"/><circle cx="1332.9" cy="308.6" r="4.7"/><circle cx="1331.2" cy="315.4" r="4.7"/><circle cx="1333.4" cy="314.2" r="4.7"/><circle cx="1334.4" cy="311.2" r="4.7"/><circle cx="1336.6" cy="314.6" r="4.7"/><circle cx="1335.7" cy="315.7" r="4.7"/><circle cx="1338.2" cy="315.4" r="4.7"/><circle cx="1337.5" cy="324.3" r="4.7"/><circle cx="1340.4" cy="313.8" r="4.7"/><circle cx="1339.5" cy="321.8" r="4.7"/><circle cx="1340.9" cy="322.8" r="4.7"/><circle cx="1344.2" cy="321.3" r="4.7"/><circle cx="1343.7" cy="324.7" r="4.7"/><circle cx="1344.5" cy="328.2" r="4.7"/><circle cx="1347.6" cy="327.3" r="4.7"/><circle cx="1346.8" cy="329.4" r="4.7"/><circle cx="1346.6" cy="331.5" r="4.7"/><circle cx="1349.2" cy="324.5" r="4.7"/><circle cx="1348.3" cy="336.2" r="4.7"/><circle cx="1351.6" cy="339.7" r="4.7"/><circle cx="1352.7" cy="336.8" r="4.7"/><circle cx="1352.0" cy="337.9" r="4.7"/><circle cx="1352.9" cy="331.7" r="4.7"/><circle cx="1354.8" cy="336.5" r="4.7"/><circle cx="1355.6" cy="335.4" r="4.7"/><circle cx="1355.6" cy="337.0" r="4.7"/><circle cx="1358.2" cy="342.6" r="4.7"/><circle cx="1356.6" cy="338.2" r="4.7"/><circle cx="1359.3" cy="341.1" r="4.7"/><circle cx="1360.3" cy="336.7" r="4.7"/><circle cx="1361.5" cy="342.9" r="4.7"/><circle cx="1363.1" cy="344.5" r="4.7"/><circle cx="1362.5" cy="343.0" r="4.7"/><circle cx="1365.4" cy="343.8" r="4.7"/><circle cx="1365.6" cy="352.5" r="4.7"/><circle cx="1366.2" cy="344.1" r="4.7"/><circle cx="1366.5" cy="345.4" r="4.7"/><circle cx="1367.7" cy="347.0" r="4.7"/><circle cx="1370.3" cy="353.9" r="4.7"/><circle cx="1370.0" cy="357.5" r="4.7"/><circle cx="1372.0" cy="353.0" r="4.7"/><circle cx="1374.0" cy="350.8" r="4.7"/><circle cx="1375.0" cy="352.5" r="4.7"/><circle cx="1376.6" cy="357.8" r="4.7"/><circle cx="1375.7" cy="352.8" r="4.7"/><circle cx="1376.0" cy="360.7" r="4.7"/><circle cx="1379.1" cy="361.5" r="4.7"/><circle cx="1379.4" cy="358.3" r="4.7"/><circle cx="1381.2" cy="360.9" r="4.7"/><circle cx="1381.1" cy="362.0" r="4.7"/><circle cx="1383.3" cy="365.3" r="4.7"/><circle cx="1384.0" cy="358.3" r="4.7"/><circle cx="1384.9" cy="365.8" r="4.7"/><circle cx="1385.7" cy="361.9" r="4.7"/><circle cx="1386.6" cy="361.6" r="4.7"/><circle cx="1387.5" cy="365.0" r="4.7"/><circle cx="1388.5" cy="364.8" r="4.7"/><circle cx="1390.3" cy="363.3" r="4.7"/><circle cx="1389.8" cy="362.2" r="4.7"/><circle cx="1393.1" cy="365.0" r="4.7"/><circle cx="1392.3" cy="372.9" r="4.7"/><circle cx="1394.4" cy="375.2" r="4.7"/><circle cx="1394.3" cy="372.1" r="4.7"/><circle cx="1395.2" cy="374.4" r="4.7"/><circle cx="1398.5" cy="370.1" r="4.7"/><circle cx="1397.2" cy="372.1" r="4.7"/><circle cx="1397.2" cy="374.0" r="4.7"/><circle cx="1398.8" cy="370.6" r="4.7"/><circle cx="1400.2" cy="371.6" r="4.7"/><circle cx="1403.7" cy="375.6" r="4.7"/><circle cx="1402.8" cy="375.1" r="4.7"/><circle cx="1404.5" cy="373.6" r="4.7"/><circle cx="1403.6" cy="378.6" r="4.7"/><circle cx="1406.0" cy="377.4" r="4.7"/><circle cx="1407.3" cy="381.9" r="4.7"/><circle cx="1409.5" cy="379.6" r="4.7"/><circle cx="1408.0" cy="379.4" r="4.7"/><circle cx="1410.3" cy="381.3" r="4.7"/><circle cx="1411.0" cy="381.1" r="4.7"/><circle cx="1410.7" cy="380.3" r="4.7"/><circle cx="1412.8" cy="381.7" r="4.7"/><circle cx="1413.5" cy="385.8" r="4.7"/><circle cx="1412.5" cy="386.2" r="4.7"/><circle cx="1416.5" cy="388.7" r="4.7"/><circle cx="1417.4" cy="380.4" r="4.7"/><circle cx="1417.5" cy="385.0" r="4.7"/><circle cx="1417.6" cy="385.5" r="4.7"/><circle cx="1421.4" cy="387.9" r="4.7"/><circle cx="1421.2" cy="386.6" r="4.7"/><circle cx="1423.0" cy="387.0" r="4.7"/><circle cx="1424.4" cy="391.5" r="4.7"/><circle cx="1423.5" cy="390.2" r="4.7"/><circle cx="1425.9" cy="386.8" r="4.7"/><circle cx="1425.8" cy="394.8" r="4.7"/><circle cx="1427.0" cy="394.4" r="4.7"/><circle cx="1428.0" cy="390.2" r="4.7"/><circle cx="1429.1" cy="395.0" r="4.7"/><circle cx="1431.3" cy="390.8" r="4.7"/><circle cx="1431.3" cy="396.9" r="4.7"/><circle cx="1432.0" cy="393.4" r="4.7"/><circle cx="1432.9" cy="392.2" r="4.7"/><circle cx="1434.6" cy="394.0" r="4.7"/><circle cx="1434.4" cy="393.4" r="4.7"/><circle cx="1435.8" cy="396.8" r="4.7"/><circle cx="1437.2" cy="397.2" r="4.7"/><circle cx="1437.8" cy="397.4" r="4.7"/><circle cx="1439.2" cy="396.1" r="4.7"/><circle cx="1439.8" cy="387.3" r="4.7"/><circle cx="1443.4" cy="399.1" r="4.7"/><circle cx="1443.7" cy="393.7" r="4.7"/><circle cx="1443.9" cy="400.6" r="4.7"/><circle cx="1444.4" cy="403.8" r="4.7"/><circle cx="1447.7" cy="401.8" r="4.7"/><circle cx="1446.8" cy="400.4" r="4.7"/><circle cx="1447.4" cy="401.6" r="4.7"/><circle cx="1448.8" cy="402.3" r="4.7"/><circle cx="1449.9" cy="401.7" r="4.7"/><circle cx="1452.0" cy="402.2" r="4.7"/><circle cx="1451.6" cy="401.8" r="4.7"/><circle cx="1454.7" cy="408.7" r="4.7"/><circle cx="1452.8" cy="405.7" r="4.7"/><circle cx="1455.4" cy="409.2" r="4.7"/><circle cx="1454.7" cy="406.2" r="4.7"/><circle cx="1458.5" cy="407.7" r="4.7"/><circle cx="1457.4" cy="407.5" r="4.7"/><circle cx="1458.7" cy="409.9" r="4.7"/><circle cx="1460.7" cy="411.4" r="4.7"/><circle cx="1462.0" cy="410.1" r="4.7"/><circle cx="1460.7" cy="407.8" r="4.7"/><circle cx="1462.5" cy="407.9" r="4.7"/><circle cx="1462.5" cy="415.6" r="4.7"/><circle cx="1465.0" cy="410.2" r="4.7"/><circle cx="1465.8" cy="410.5" r="4.7"/><circle cx="1466.6" cy="416.2" r="4.7"/><circle cx="1467.3" cy="415.4" r="4.7"/><circle cx="1468.6" cy="414.1" r="4.7"/><circle cx="1469.2" cy="411.7" r="4.7"/><circle cx="1471.5" cy="420.3" r="4.7"/><circle cx="1473.5" cy="414.8" r="4.7"/><circle cx="1471.1" cy="415.7" r="4.7"/><circle cx="1473.9" cy="413.9" r="4.7"/><circle cx="1474.7" cy="410.6" r="4.7"/><circle cx="1476.6" cy="411.2" r="4.7"/><circle cx="1476.2" cy="416.8" r="4.7"/><circle cx="1478.0" cy="417.2" r="4.7"/><circle cx="1478.1" cy="415.7" r="4.7"/><circle cx="1480.9" cy="413.3" r="4.7"/><circle cx="1481.3" cy="412.9" r="4.7"/><circle cx="1482.1" cy="416.6" r="4.7"/><circle cx="1483.6" cy="413.7" r="4.7"/><circle cx="1484.0" cy="421.1" r="4.7"/><circle cx="1483.7" cy="422.3" r="4.7"/><circle cx="1486.9" cy="427.7" r="4.7"/><circle cx="1487.6" cy="422.3" r="4.7"/><circle cx="1488.2" cy="418.3" r="4.7"/><circle cx="1490.4" cy="417.8" r="4.7"/><circle cx="1491.6" cy="410.5" r="4.7"/><circle cx="1490.3" cy="419.5" r="4.7"/><circle cx="1491.7" cy="421.1" r="4.7"/><circle cx="1495.0" cy="425.0" r="4.7"/><circle cx="1495.9" cy="424.3" r="4.7"/><circle cx="1494.8" cy="424.6" r="4.7"/><circle cx="1495.4" cy="423.9" r="4.7"/><circle cx="1496.9" cy="425.7" r="4.7"/><circle cx="1498.1" cy="428.4" r="4.7"/><circle cx="1498.0" cy="421.3" r="4.7"/><circle cx="1500.6" cy="423.6" r="4.7"/><circle cx="1500.4" cy="421.2" r="4.7"/><circle cx="1501.4" cy="430.6" r="4.7"/><circle cx="1504.6" cy="430.1" r="4.7"/><circle cx="1504.0" cy="429.0" r="4.7"/><circle cx="1505.7" cy="423.6" r="4.7"/><circle cx="1507.4" cy="428.2" r="4.7"/><circle cx="1508.6" cy="427.4" r="4.7"/><circle cx="1508.4" cy="428.8" r="4.7"/><circle cx="1509.9" cy="428.5" r="4.7"/><circle cx="1510.0" cy="431.1" r="4.7"/><circle cx="1513.6" cy="428.8" r="4.7"/><circle cx="1513.5" cy="433.0" r="4.7"/><circle cx="1512.8" cy="431.6" r="4.7"/><circle cx="1514.9" cy="430.4" r="4.7"/><circle cx="1516.6" cy="431.4" r="4.7"/><circle cx="1517.4" cy="430.8" r="4.7"/><circle cx="1519.8" cy="434.9" r="4.7"/><circle cx="1520.4" cy="432.0" r="4.7"/><circle cx="1519.5" cy="434.0" r="4.7"/><circle cx="1521.0" cy="432.3" r="4.7"/><circle cx="1520.8" cy="429.3" r="4.7"/><circle cx="1523.3" cy="436.8" r="4.7"/><circle cx="1524.3" cy="431.2" r="4.7"/><circle cx="1527.8" cy="436.6" r="4.7"/><circle cx="1526.2" cy="436.1" r="4.7"/><circle cx="1525.1" cy="430.2" r="4.7"/><circle cx="1527.5" cy="432.5" r="4.7"/><circle cx="1529.3" cy="434.1" r="4.7"/><circle cx="1529.0" cy="433.4" r="4.7"/><circle cx="1530.4" cy="432.6" r="4.7"/><circle cx="1531.9" cy="438.6" r="4.7"/><circle cx="1533.6" cy="435.9" r="4.7"/><circle cx="1534.2" cy="438.0" r="4.7"/><circle cx="1534.4" cy="435.8" r="4.7"/><circle cx="1537.1" cy="438.3" r="4.7"/><circle cx="1536.8" cy="435.4" r="4.7"/><circle cx="1537.9" cy="437.9" r="4.7"/><circle cx="1538.0" cy="440.0" r="4.7"/><circle cx="1539.7" cy="438.7" r="4.7"/><circle cx="1542.1" cy="437.5" r="4.7"/><circle cx="1540.9" cy="435.9" r="4.7"/><circle cx="1543.4" cy="440.0" r="4.7"/><circle cx="1545.2" cy="440.9" r="4.7"/><circle cx="1545.2" cy="439.4" r="4.7"/><circle cx="1546.8" cy="438.2" r="4.7"/><circle cx="1546.5" cy="442.5" r="4.7"/><circle cx="1549.9" cy="448.7" r="4.7"/><circle cx="1550.7" cy="440.7" r="4.7"/><circle cx="1550.9" cy="442.9" r="4.7"/><circle cx="1549.9" cy="443.4" r="4.7"/><circle cx="1551.7" cy="434.9" r="4.7"/><circle cx="1554.7" cy="443.3" r="4.7"/><circle cx="1556.5" cy="441.2" r="4.7"/><circle cx="1556.1" cy="447.7" r="4.7"/><circle cx="1558.0" cy="443.1" r="4.7"/><circle cx="1557.2" cy="441.8" r="4.7"/><circle cx="1558.6" cy="443.8" r="4.7"/><circle cx="1559.8" cy="445.2" r="4.7"/><circle cx="1561.3" cy="443.3" r="4.7"/><circle cx="1560.4" cy="445.1" r="4.7"/><circle cx="1563.9" cy="441.5" r="4.7"/><circle cx="1565.3" cy="445.2" r="4.7"/><circle cx="1563.8" cy="448.4" r="4.7"/><circle cx="1564.6" cy="452.3" r="4.7"/><circle cx="1567.3" cy="448.7" r="4.7"/><circle cx="1567.4" cy="447.7" r="4.7"/><circle cx="1566.7" cy="450.7" r="4.7"/><circle cx="1570.9" cy="450.4" r="4.7"/><circle cx="1571.2" cy="452.6" r="4.7"/><circle cx="1571.6" cy="451.1" r="4.7"/><circle cx="1575.2" cy="447.7" r="4.7"/><circle cx="1574.3" cy="449.1" r="4.7"/><circle cx="1574.4" cy="449.1" r="4.7"/><circle cx="1576.3" cy="449.7" r="4.7"/><circle cx="1576.2" cy="449.6" r="4.7"/><circle cx="1577.5" cy="446.9" r="4.7"/><circle cx="1579.6" cy="443.1" r="4.7"/><circle cx="1579.7" cy="447.7" r="4.7"/><circle cx="1580.8" cy="443.8" r="4.7"/><circle cx="1584.0" cy="450.3" r="4.7"/><circle cx="1584.2" cy="450.4" r="4.7"/><circle cx="1585.2" cy="445.5" r="4.7"/><circle cx="1585.9" cy="452.8" r="4.7"/><circle cx="1586.9" cy="453.6" r="4.7"/><circle cx="1588.9" cy="451.5" r="4.7"/><circle cx="1588.4" cy="456.4" r="4.7"/><circle cx="1591.3" cy="457.2" r="4.7"/><circle cx="1589.5" cy="448.1" r="4.7"/><circle cx="1591.3" cy="455.1" r="4.7"/><circle cx="1591.2" cy="453.4" r="4.7"/><circle cx="1593.2" cy="453.5" r="4.7"/><circle cx="1595.1" cy="455.2" r="4.7"/><circle cx="1597.0" cy="450.4" r="4.7"/><circle cx="1596.0" cy="451.0" r="4.7"/><circle cx="1597.6" cy="450.4" r="4.7"/><circle cx="1598.3" cy="450.8" r="4.7"/><circle cx="1598.9" cy="452.9" r="4.7"/><circle cx="1599.5" cy="449.0" r="4.7"/><circle cx="1601.8" cy="450.3" r="4.7"/><circle cx="1601.0" cy="455.3" r="4.7"/><circle cx="1603.9" cy="453.5" r="4.7"/><circle cx="1604.8" cy="455.0" r="4.7"/><circle cx="1605.1" cy="448.3" r="4.7"/><circle cx="1605.8" cy="451.8" r="4.7"/><circle cx="1606.5" cy="452.6" r="4.7"/><circle cx="1610.7" cy="454.5" r="4.7"/><circle cx="1608.5" cy="452.7" r="4.7"/><circle cx="1612.5" cy="457.4" r="4.7"/><circle cx="1612.5" cy="454.6" r="4.7"/><circle cx="1612.6" cy="454.9" r="4.7"/><circle cx="1612.8" cy="455.1" r="4.7"/><circle cx="1616.0" cy="457.3" r="4.7"/><circle cx="1617.7" cy="453.9" r="4.7"/><circle cx="1616.1" cy="458.8" r="4.7"/><circle cx="1617.8" cy="456.9" r="4.7"/><circle cx="1620.1" cy="456.1" r="4.7"/><circle cx="1620.4" cy="455.9" r="4.7"/><circle cx="1623.1" cy="457.5" r="4.7"/><circle cx="1621.6" cy="459.1" r="4.7"/><circle cx="1623.7" cy="459.0" r="4.7"/><circle cx="1622.9" cy="457.4" r="4.7"/><circle cx="1627.3" cy="459.0" r="4.7"/><circle cx="1625.5" cy="456.9" r="4.7"/><circle cx="1625.0" cy="460.4" r="4.7"/><circle cx="1628.1" cy="456.7" r="4.7"/><circle cx="1629.2" cy="450.7" r="4.7"/><circle cx="1632.2" cy="461.0" r="4.7"/><circle cx="1631.0" cy="457.4" r="4.7"/><circle cx="1632.3" cy="453.7" r="4.7"/><circle cx="1634.0" cy="456.8" r="4.7"/><circle cx="1636.0" cy="454.8" r="4.7"/><circle cx="1224.8" cy="652.8" r="4.7"/><circle cx="1226.6" cy="651.6" r="4.7"/><circle cx="1634.4" cy="653.8" r="4.7"/><circle cx="1635.6" cy="652.0" r="4.7"/><circle cx="1636.9" cy="649.8" r="4.7"/><circle cx="1638.1" cy="652.1" r="4.7"/><circle cx="1639.3" cy="651.1" r="4.7"/><circle cx="1640.5" cy="653.6" r="4.7"/><circle cx="1641.8" cy="650.3" r="4.7"/><circle cx="1643.0" cy="649.0" r="4.7"/><circle cx="1644.2" cy="651.6" r="4.7"/><circle cx="1645.4" cy="651.1" r="4.7"/><circle cx="1646.7" cy="651.0" r="4.7"/><circle cx="1647.9" cy="649.1" r="4.7"/><circle cx="1649.1" cy="652.0" r="4.7"/><circle cx="1650.3" cy="653.3" r="4.7"/><circle cx="1651.6" cy="649.4" r="4.7"/><circle cx="1652.8" cy="652.8" r="4.7"/><circle cx="1654.0" cy="650.9" r="4.7"/><circle cx="1655.2" cy="654.1" r="4.7"/><circle cx="1656.5" cy="652.0" r="4.7"/><circle cx="1657.7" cy="651.3" r="4.7"/><circle cx="1658.9" cy="652.7" r="4.7"/><circle cx="1660.1" cy="652.1" r="4.7"/><circle cx="1661.4" cy="650.8" r="4.7"/><circle cx="1662.6" cy="652.3" r="4.7"/><circle cx="1663.8" cy="650.9" r="4.7"/><circle cx="1665.0" cy="649.5" r="4.7"/><circle cx="1666.3" cy="653.7" r="4.7"/><circle cx="1667.5" cy="651.1" r="4.7"/><circle cx="1668.7" cy="650.8" r="4.7"/><circle cx="1669.9" cy="651.9" r="4.7"/><circle cx="1671.2" cy="649.8" r="4.7"/><circle cx="1672.4" cy="650.0" r="4.7"/><circle cx="1673.6" cy="651.0" r="4.7"/><circle cx="1674.8" cy="650.9" r="4.7"/><circle cx="1676.1" cy="651.6" r="4.7"/><circle cx="1677.3" cy="652.7" r="4.7"/></g>
<g fill="none" stroke="#d41a16" stroke-width="2.2" clip-path="url(#clipB)"><circle cx="1225.4" cy="164.9" r="4.7"/><circle cx="1227.4" cy="173.6" r="4.7"/><circle cx="1228.5" cy="172.8" r="4.7"/><circle cx="1227.9" cy="174.9" r="4.7"/><circle cx="1230.2" cy="183.2" r="4.7"/><circle cx="1230.1" cy="182.5" r="4.7"/><circle cx="1233.1" cy="186.6" r="4.7"/><circle cx="1233.5" cy="189.9" r="4.7"/><circle cx="1234.1" cy="189.1" r="4.7"/><circle cx="1233.8" cy="201.1" r="4.7"/><circle cx="1236.2" cy="198.4" r="4.7"/><circle cx="1236.4" cy="203.8" r="4.7"/><circle cx="1238.9" cy="206.6" r="4.7"/><circle cx="1239.1" cy="214.3" r="4.7"/><circle cx="1239.4" cy="215.2" r="4.7"/><circle cx="1242.1" cy="218.6" r="4.7"/><circle cx="1243.0" cy="216.6" r="4.7"/><circle cx="1242.7" cy="224.4" r="4.7"/><circle cx="1245.4" cy="223.2" r="4.7"/><circle cx="1245.0" cy="231.4" r="4.7"/><circle cx="1246.0" cy="234.3" r="4.7"/><circle cx="1247.5" cy="235.7" r="4.7"/><circle cx="1247.6" cy="244.4" r="4.7"/><circle cx="1248.9" cy="242.2" r="4.7"/><circle cx="1250.2" cy="244.8" r="4.7"/><circle cx="1253.0" cy="245.7" r="4.7"/><circle cx="1254.0" cy="247.0" r="4.7"/><circle cx="1253.2" cy="252.8" r="4.7"/><circle cx="1256.1" cy="255.6" r="4.7"/><circle cx="1255.5" cy="250.8" r="4.7"/><circle cx="1256.9" cy="260.4" r="4.7"/><circle cx="1258.4" cy="261.5" r="4.7"/><circle cx="1258.9" cy="265.5" r="4.7"/><circle cx="1262.0" cy="266.6" r="4.7"/><circle cx="1260.9" cy="264.0" r="4.7"/><circle cx="1260.4" cy="266.5" r="4.7"/><circle cx="1264.0" cy="277.8" r="4.7"/><circle cx="1263.3" cy="275.3" r="4.7"/><circle cx="1264.4" cy="272.4" r="4.7"/><circle cx="1262.7" cy="279.9" r="4.7"/><circle cx="1267.8" cy="279.8" r="4.7"/><circle cx="1268.6" cy="277.4" r="4.7"/><circle cx="1269.6" cy="278.1" r="4.7"/><circle cx="1270.8" cy="282.1" r="4.7"/><circle cx="1272.5" cy="289.6" r="4.7"/><circle cx="1271.8" cy="290.6" r="4.7"/><circle cx="1273.8" cy="291.8" r="4.7"/><circle cx="1273.2" cy="295.2" r="4.7"/><circle cx="1274.6" cy="298.0" r="4.7"/><circle cx="1277.0" cy="291.6" r="4.7"/><circle cx="1277.4" cy="298.8" r="4.7"/><circle cx="1276.7" cy="298.9" r="4.7"/><circle cx="1279.4" cy="299.3" r="4.7"/><circle cx="1279.8" cy="303.0" r="4.7"/><circle cx="1280.2" cy="305.9" r="4.7"/><circle cx="1282.5" cy="307.1" r="4.7"/><circle cx="1282.7" cy="305.1" r="4.7"/><circle cx="1282.5" cy="309.6" r="4.7"/><circle cx="1284.0" cy="318.6" r="4.7"/><circle cx="1287.9" cy="311.0" r="4.7"/><circle cx="1285.7" cy="310.6" r="4.7"/><circle cx="1288.4" cy="318.0" r="4.7"/><circle cx="1289.8" cy="320.4" r="4.7"/><circle cx="1290.9" cy="321.5" r="4.7"/><circle cx="1290.0" cy="318.2" r="4.7"/><circle cx="1292.0" cy="326.0" r="4.7"/><circle cx="1293.4" cy="322.1" r="4.7"/><circle cx="1295.1" cy="322.4" r="4.7"/><circle cx="1294.7" cy="325.4" r="4.7"/><circle cx="1295.2" cy="328.2" r="4.7"/><circle cx="1298.4" cy="332.0" r="4.7"/><circle cx="1299.5" cy="333.1" r="4.7"/><circle cx="1299.8" cy="332.4" r="4.7"/><circle cx="1299.8" cy="336.6" r="4.7"/><circle cx="1301.9" cy="335.3" r="4.7"/><circle cx="1302.6" cy="339.1" r="4.7"/><circle cx="1304.4" cy="333.5" r="4.7"/><circle cx="1303.3" cy="334.3" r="4.7"/><circle cx="1305.7" cy="342.6" r="4.7"/><circle cx="1306.4" cy="337.5" r="4.7"/><circle cx="1306.5" cy="342.1" r="4.7"/><circle cx="1308.8" cy="344.2" r="4.7"/><circle cx="1309.7" cy="344.5" r="4.7"/><circle cx="1310.3" cy="346.2" r="4.7"/><circle cx="1312.1" cy="353.3" r="4.7"/><circle cx="1311.3" cy="343.1" r="4.7"/><circle cx="1313.7" cy="354.8" r="4.7"/><circle cx="1315.2" cy="360.5" r="4.7"/><circle cx="1316.1" cy="355.1" r="4.7"/><circle cx="1317.9" cy="356.4" r="4.7"/><circle cx="1316.6" cy="360.0" r="4.7"/><circle cx="1317.3" cy="364.7" r="4.7"/><circle cx="1320.1" cy="357.1" r="4.7"/><circle cx="1321.3" cy="362.3" r="4.7"/><circle cx="1324.0" cy="362.8" r="4.7"/><circle cx="1323.5" cy="366.3" r="4.7"/><circle cx="1323.1" cy="366.4" r="4.7"/><circle cx="1325.8" cy="369.2" r="4.7"/><circle cx="1325.1" cy="367.2" r="4.7"/><circle cx="1325.5" cy="369.8" r="4.7"/><circle cx="1330.6" cy="368.9" r="4.7"/><circle cx="1329.4" cy="370.0" r="4.7"/><circle cx="1330.8" cy="372.7" r="4.7"/><circle cx="1331.7" cy="373.8" r="4.7"/><circle cx="1333.9" cy="371.7" r="4.7"/><circle cx="1333.4" cy="381.0" r="4.7"/><circle cx="1335.4" cy="376.8" r="4.7"/><circle cx="1334.1" cy="374.1" r="4.7"/><circle cx="1334.8" cy="382.5" r="4.7"/><circle cx="1338.6" cy="377.9" r="4.7"/><circle cx="1339.7" cy="382.6" r="4.7"/><circle cx="1339.8" cy="381.9" r="4.7"/><circle cx="1340.5" cy="383.6" r="4.7"/><circle cx="1341.5" cy="384.3" r="4.7"/><circle cx="1341.6" cy="382.9" r="4.7"/><circle cx="1344.9" cy="385.6" r="4.7"/><circle cx="1345.0" cy="392.5" r="4.7"/><circle cx="1345.9" cy="380.5" r="4.7"/><circle cx="1346.8" cy="388.2" r="4.7"/><circle cx="1348.5" cy="390.2" r="4.7"/><circle cx="1349.0" cy="386.6" r="4.7"/><circle cx="1350.2" cy="386.5" r="4.7"/><circle cx="1349.3" cy="398.0" r="4.7"/><circle cx="1352.0" cy="391.4" r="4.7"/><circle cx="1354.7" cy="399.8" r="4.7"/><circle cx="1353.0" cy="396.2" r="4.7"/><circle cx="1354.4" cy="395.9" r="4.7"/><circle cx="1356.5" cy="398.1" r="4.7"/><circle cx="1357.6" cy="399.7" r="4.7"/><circle cx="1358.3" cy="402.5" r="4.7"/><circle cx="1357.0" cy="401.3" r="4.7"/><circle cx="1360.2" cy="401.6" r="4.7"/><circle cx="1359.5" cy="402.8" r="4.7"/><circle cx="1360.9" cy="407.4" r="4.7"/><circle cx="1363.3" cy="406.8" r="4.7"/><circle cx="1363.5" cy="402.4" r="4.7"/><circle cx="1365.6" cy="404.5" r="4.7"/><circle cx="1369.0" cy="408.4" r="4.7"/><circle cx="1367.6" cy="406.5" r="4.7"/><circle cx="1368.6" cy="408.1" r="4.7"/><circle cx="1368.0" cy="407.2" r="4.7"/><circle cx="1369.3" cy="410.0" r="4.7"/><circle cx="1369.9" cy="412.8" r="4.7"/><circle cx="1371.4" cy="415.2" r="4.7"/><circle cx="1371.9" cy="412.9" r="4.7"/><circle cx="1373.3" cy="419.7" r="4.7"/><circle cx="1374.8" cy="413.8" r="4.7"/><circle cx="1375.0" cy="424.2" r="4.7"/><circle cx="1375.6" cy="418.3" r="4.7"/><circle cx="1376.7" cy="417.3" r="4.7"/><circle cx="1379.5" cy="414.9" r="4.7"/><circle cx="1380.2" cy="408.5" r="4.7"/><circle cx="1382.2" cy="417.1" r="4.7"/><circle cx="1383.2" cy="418.7" r="4.7"/><circle cx="1382.8" cy="424.5" r="4.7"/><circle cx="1384.9" cy="415.3" r="4.7"/><circle cx="1383.8" cy="425.8" r="4.7"/><circle cx="1388.5" cy="420.0" r="4.7"/><circle cx="1388.5" cy="423.6" r="4.7"/><circle cx="1388.1" cy="414.5" r="4.7"/><circle cx="1388.1" cy="423.3" r="4.7"/><circle cx="1390.7" cy="422.6" r="4.7"/><circle cx="1389.5" cy="426.4" r="4.7"/><circle cx="1391.6" cy="425.4" r="4.7"/><circle cx="1394.1" cy="422.4" r="4.7"/><circle cx="1394.5" cy="429.4" r="4.7"/><circle cx="1394.9" cy="429.4" r="4.7"/><circle cx="1397.4" cy="429.8" r="4.7"/><circle cx="1396.4" cy="431.8" r="4.7"/><circle cx="1398.8" cy="432.8" r="4.7"/><circle cx="1399.0" cy="430.2" r="4.7"/><circle cx="1399.7" cy="426.9" r="4.7"/><circle cx="1402.0" cy="427.5" r="4.7"/><circle cx="1401.6" cy="436.4" r="4.7"/><circle cx="1405.5" cy="435.3" r="4.7"/><circle cx="1404.0" cy="434.2" r="4.7"/><circle cx="1407.6" cy="433.3" r="4.7"/><circle cx="1405.6" cy="435.4" r="4.7"/><circle cx="1408.3" cy="436.1" r="4.7"/><circle cx="1407.5" cy="435.8" r="4.7"/><circle cx="1408.4" cy="435.4" r="4.7"/><circle cx="1410.9" cy="444.7" r="4.7"/><circle cx="1412.4" cy="439.6" r="4.7"/><circle cx="1411.5" cy="437.8" r="4.7"/><circle cx="1415.0" cy="436.3" r="4.7"/><circle cx="1414.0" cy="438.7" r="4.7"/><circle cx="1416.0" cy="443.7" r="4.7"/><circle cx="1417.3" cy="444.4" r="4.7"/><circle cx="1418.5" cy="442.0" r="4.7"/><circle cx="1417.1" cy="443.4" r="4.7"/><circle cx="1421.6" cy="442.9" r="4.7"/><circle cx="1421.5" cy="441.0" r="4.7"/><circle cx="1421.6" cy="448.8" r="4.7"/><circle cx="1422.0" cy="446.5" r="4.7"/><circle cx="1422.3" cy="453.3" r="4.7"/><circle cx="1423.7" cy="444.1" r="4.7"/><circle cx="1426.6" cy="446.5" r="4.7"/><circle cx="1426.7" cy="450.0" r="4.7"/><circle cx="1427.0" cy="447.1" r="4.7"/><circle cx="1428.6" cy="444.2" r="4.7"/><circle cx="1431.7" cy="446.0" r="4.7"/><circle cx="1430.8" cy="449.6" r="4.7"/><circle cx="1431.6" cy="450.8" r="4.7"/><circle cx="1434.6" cy="449.9" r="4.7"/><circle cx="1434.7" cy="453.6" r="4.7"/><circle cx="1435.3" cy="454.1" r="4.7"/><circle cx="1435.7" cy="452.5" r="4.7"/><circle cx="1435.7" cy="452.1" r="4.7"/><circle cx="1437.1" cy="451.7" r="4.7"/><circle cx="1438.9" cy="454.5" r="4.7"/><circle cx="1440.1" cy="456.1" r="4.7"/><circle cx="1441.7" cy="453.9" r="4.7"/><circle cx="1443.0" cy="455.6" r="4.7"/><circle cx="1443.6" cy="453.7" r="4.7"/><circle cx="1444.7" cy="450.9" r="4.7"/><circle cx="1444.5" cy="452.6" r="4.7"/><circle cx="1444.3" cy="458.4" r="4.7"/><circle cx="1447.0" cy="457.9" r="4.7"/><circle cx="1447.6" cy="461.8" r="4.7"/><circle cx="1448.9" cy="457.7" r="4.7"/><circle cx="1450.3" cy="460.6" r="4.7"/><circle cx="1450.4" cy="462.5" r="4.7"/><circle cx="1451.5" cy="462.0" r="4.7"/><circle cx="1453.5" cy="457.7" r="4.7"/><circle cx="1454.8" cy="459.5" r="4.7"/><circle cx="1455.0" cy="461.0" r="4.7"/><circle cx="1457.2" cy="458.1" r="4.7"/><circle cx="1457.5" cy="463.0" r="4.7"/><circle cx="1457.7" cy="465.1" r="4.7"/><circle cx="1459.8" cy="461.1" r="4.7"/><circle cx="1462.7" cy="469.0" r="4.7"/><circle cx="1461.1" cy="462.6" r="4.7"/><circle cx="1464.0" cy="463.4" r="4.7"/><circle cx="1465.2" cy="463.7" r="4.7"/><circle cx="1466.4" cy="462.7" r="4.7"/><circle cx="1465.1" cy="466.5" r="4.7"/><circle cx="1468.9" cy="465.7" r="4.7"/><circle cx="1468.1" cy="471.0" r="4.7"/><circle cx="1468.7" cy="468.2" r="4.7"/><circle cx="1469.7" cy="468.4" r="4.7"/><circle cx="1471.6" cy="466.4" r="4.7"/><circle cx="1472.1" cy="463.2" r="4.7"/><circle cx="1472.9" cy="467.5" r="4.7"/><circle cx="1475.3" cy="465.5" r="4.7"/><circle cx="1474.4" cy="471.2" r="4.7"/><circle cx="1475.1" cy="468.5" r="4.7"/><circle cx="1477.9" cy="473.9" r="4.7"/><circle cx="1478.9" cy="471.4" r="4.7"/><circle cx="1480.3" cy="472.0" r="4.7"/><circle cx="1479.1" cy="470.4" r="4.7"/><circle cx="1482.3" cy="470.6" r="4.7"/><circle cx="1482.7" cy="472.2" r="4.7"/><circle cx="1485.0" cy="473.3" r="4.7"/><circle cx="1483.0" cy="468.7" r="4.7"/><circle cx="1485.5" cy="472.5" r="4.7"/><circle cx="1486.0" cy="479.2" r="4.7"/><circle cx="1485.8" cy="471.3" r="4.7"/><circle cx="1487.6" cy="471.1" r="4.7"/><circle cx="1490.5" cy="470.1" r="4.7"/><circle cx="1489.9" cy="468.1" r="4.7"/><circle cx="1490.7" cy="476.3" r="4.7"/><circle cx="1493.3" cy="473.1" r="4.7"/><circle cx="1494.5" cy="474.1" r="4.7"/><circle cx="1495.5" cy="479.0" r="4.7"/><circle cx="1494.7" cy="481.3" r="4.7"/><circle cx="1496.5" cy="471.3" r="4.7"/><circle cx="1498.6" cy="477.4" r="4.7"/><circle cx="1497.9" cy="476.3" r="4.7"/><circle cx="1498.8" cy="475.9" r="4.7"/><circle cx="1501.4" cy="476.4" r="4.7"/><circle cx="1503.2" cy="475.1" r="4.7"/><circle cx="1501.5" cy="480.1" r="4.7"/><circle cx="1501.1" cy="477.4" r="4.7"/><circle cx="1503.3" cy="476.8" r="4.7"/><circle cx="1504.7" cy="479.6" r="4.7"/><circle cx="1506.6" cy="478.8" r="4.7"/><circle cx="1508.4" cy="477.7" r="4.7"/><circle cx="1508.6" cy="477.4" r="4.7"/><circle cx="1509.1" cy="481.9" r="4.7"/><circle cx="1511.0" cy="478.4" r="4.7"/><circle cx="1510.9" cy="476.8" r="4.7"/><circle cx="1512.8" cy="474.7" r="4.7"/><circle cx="1513.3" cy="476.4" r="4.7"/><circle cx="1517.6" cy="474.5" r="4.7"/><circle cx="1516.8" cy="478.1" r="4.7"/><circle cx="1516.1" cy="478.8" r="4.7"/><circle cx="1517.0" cy="472.1" r="4.7"/><circle cx="1518.6" cy="478.5" r="4.7"/><circle cx="1518.4" cy="480.5" r="4.7"/><circle cx="1520.3" cy="479.3" r="4.7"/><circle cx="1521.3" cy="476.1" r="4.7"/><circle cx="1524.0" cy="483.0" r="4.7"/><circle cx="1523.7" cy="477.3" r="4.7"/><circle cx="1524.3" cy="475.9" r="4.7"/><circle cx="1524.8" cy="476.5" r="4.7"/><circle cx="1526.0" cy="479.9" r="4.7"/><circle cx="1528.1" cy="483.1" r="4.7"/><circle cx="1529.0" cy="483.9" r="4.7"/><circle cx="1531.4" cy="481.2" r="4.7"/><circle cx="1530.6" cy="477.2" r="4.7"/><circle cx="1533.3" cy="479.0" r="4.7"/><circle cx="1533.6" cy="478.5" r="4.7"/><circle cx="1534.3" cy="480.8" r="4.7"/><circle cx="1533.3" cy="476.2" r="4.7"/><circle cx="1535.1" cy="482.1" r="4.7"/><circle cx="1538.1" cy="483.9" r="4.7"/><circle cx="1539.8" cy="481.7" r="4.7"/><circle cx="1539.6" cy="483.8" r="4.7"/><circle cx="1541.2" cy="479.8" r="4.7"/><circle cx="1541.1" cy="478.4" r="4.7"/><circle cx="1542.1" cy="481.1" r="4.7"/><circle cx="1542.8" cy="486.7" r="4.7"/><circle cx="1545.5" cy="486.5" r="4.7"/><circle cx="1545.9" cy="482.2" r="4.7"/><circle cx="1546.3" cy="487.4" r="4.7"/><circle cx="1547.3" cy="483.0" r="4.7"/><circle cx="1549.2" cy="488.8" r="4.7"/><circle cx="1550.0" cy="485.9" r="4.7"/><circle cx="1549.8" cy="483.3" r="4.7"/><circle cx="1553.4" cy="487.2" r="4.7"/><circle cx="1553.0" cy="482.7" r="4.7"/><circle cx="1553.7" cy="482.4" r="4.7"/><circle cx="1556.2" cy="481.1" r="4.7"/><circle cx="1556.8" cy="486.4" r="4.7"/><circle cx="1556.7" cy="485.6" r="4.7"/><circle cx="1558.3" cy="485.7" r="4.7"/><circle cx="1557.8" cy="484.9" r="4.7"/><circle cx="1559.2" cy="490.7" r="4.7"/><circle cx="1558.6" cy="485.3" r="4.7"/><circle cx="1563.1" cy="484.6" r="4.7"/><circle cx="1561.0" cy="490.6" r="4.7"/><circle cx="1564.6" cy="491.4" r="4.7"/><circle cx="1564.1" cy="488.3" r="4.7"/><circle cx="1565.0" cy="482.2" r="4.7"/><circle cx="1566.8" cy="485.8" r="4.7"/><circle cx="1568.3" cy="489.7" r="4.7"/><circle cx="1569.7" cy="488.0" r="4.7"/><circle cx="1571.8" cy="492.8" r="4.7"/><circle cx="1571.4" cy="484.2" r="4.7"/><circle cx="1573.0" cy="490.6" r="4.7"/><circle cx="1572.5" cy="486.8" r="4.7"/><circle cx="1574.9" cy="492.8" r="4.7"/><circle cx="1575.3" cy="488.8" r="4.7"/><circle cx="1575.7" cy="492.3" r="4.7"/><circle cx="1577.1" cy="487.4" r="4.7"/><circle cx="1578.2" cy="485.3" r="4.7"/><circle cx="1579.4" cy="486.4" r="4.7"/><circle cx="1580.7" cy="488.0" r="4.7"/><circle cx="1580.8" cy="486.9" r="4.7"/><circle cx="1581.6" cy="493.8" r="4.7"/><circle cx="1584.1" cy="494.3" r="4.7"/><circle cx="1582.7" cy="491.3" r="4.7"/><circle cx="1584.8" cy="487.5" r="4.7"/><circle cx="1588.0" cy="490.4" r="4.7"/><circle cx="1584.7" cy="488.8" r="4.7"/><circle cx="1587.8" cy="495.4" r="4.7"/><circle cx="1590.2" cy="492.1" r="4.7"/><circle cx="1588.8" cy="492.8" r="4.7"/><circle cx="1594.1" cy="490.2" r="4.7"/><circle cx="1589.9" cy="485.5" r="4.7"/><circle cx="1595.0" cy="489.4" r="4.7"/><circle cx="1596.1" cy="488.5" r="4.7"/><circle cx="1596.5" cy="493.0" r="4.7"/><circle cx="1596.4" cy="492.3" r="4.7"/><circle cx="1598.0" cy="489.8" r="4.7"/><circle cx="1597.8" cy="491.1" r="4.7"/><circle cx="1600.5" cy="497.1" r="4.7"/><circle cx="1599.6" cy="489.7" r="4.7"/><circle cx="1601.4" cy="489.9" r="4.7"/><circle cx="1603.7" cy="492.1" r="4.7"/><circle cx="1602.6" cy="490.8" r="4.7"/><circle cx="1604.4" cy="491.7" r="4.7"/><circle cx="1606.0" cy="494.7" r="4.7"/><circle cx="1605.5" cy="498.4" r="4.7"/><circle cx="1609.0" cy="488.0" r="4.7"/><circle cx="1609.2" cy="493.4" r="4.7"/><circle cx="1608.4" cy="493.7" r="4.7"/><circle cx="1610.9" cy="493.5" r="4.7"/><circle cx="1611.2" cy="493.3" r="4.7"/><circle cx="1612.3" cy="492.9" r="4.7"/><circle cx="1614.1" cy="497.1" r="4.7"/><circle cx="1614.3" cy="492.8" r="4.7"/><circle cx="1617.0" cy="494.0" r="4.7"/><circle cx="1616.3" cy="494.5" r="4.7"/><circle cx="1619.0" cy="494.9" r="4.7"/><circle cx="1619.0" cy="494.2" r="4.7"/><circle cx="1621.0" cy="497.8" r="4.7"/><circle cx="1620.6" cy="494.9" r="4.7"/><circle cx="1621.6" cy="495.6" r="4.7"/><circle cx="1622.0" cy="495.1" r="4.7"/><circle cx="1624.8" cy="492.3" r="4.7"/><circle cx="1626.1" cy="493.0" r="4.7"/><circle cx="1628.3" cy="492.4" r="4.7"/><circle cx="1628.5" cy="496.3" r="4.7"/><circle cx="1628.5" cy="493.7" r="4.7"/><circle cx="1629.1" cy="492.8" r="4.7"/><circle cx="1630.7" cy="496.8" r="4.7"/><circle cx="1631.3" cy="497.8" r="4.7"/><circle cx="1633.8" cy="491.1" r="4.7"/><circle cx="1634.3" cy="501.5" r="4.7"/><circle cx="1633.6" cy="496.7" r="4.7"/><circle cx="1224.8" cy="652.8" r="4.7"/><circle cx="1226.6" cy="651.6" r="4.7"/><circle cx="1634.4" cy="651.4" r="4.7"/><circle cx="1635.6" cy="652.7" r="4.7"/><circle cx="1636.9" cy="651.6" r="4.7"/><circle cx="1638.1" cy="650.8" r="4.7"/><circle cx="1639.3" cy="653.9" r="4.7"/><circle cx="1640.5" cy="650.3" r="4.7"/><circle cx="1641.8" cy="651.4" r="4.7"/><circle cx="1643.0" cy="652.4" r="4.7"/><circle cx="1644.2" cy="650.3" r="4.7"/><circle cx="1645.4" cy="651.4" r="4.7"/><circle cx="1646.7" cy="651.9" r="4.7"/><circle cx="1647.9" cy="654.1" r="4.7"/><circle cx="1649.1" cy="650.5" r="4.7"/><circle cx="1650.3" cy="651.4" r="4.7"/><circle cx="1651.6" cy="652.2" r="4.7"/><circle cx="1652.8" cy="651.6" r="4.7"/><circle cx="1654.0" cy="650.2" r="4.7"/><circle cx="1655.2" cy="651.9" r="4.7"/><circle cx="1656.5" cy="651.6" r="4.7"/><circle cx="1657.7" cy="652.0" r="4.7"/><circle cx="1658.9" cy="652.7" r="4.7"/><circle cx="1660.1" cy="652.6" r="4.7"/><circle cx="1661.4" cy="651.9" r="4.7"/><circle cx="1662.6" cy="651.8" r="4.7"/><circle cx="1663.8" cy="650.3" r="4.7"/><circle cx="1665.0" cy="651.4" r="4.7"/><circle cx="1666.3" cy="651.7" r="4.7"/><circle cx="1667.5" cy="651.1" r="4.7"/><circle cx="1668.7" cy="651.6" r="4.7"/><circle cx="1669.9" cy="650.6" r="4.7"/><circle cx="1671.2" cy="653.2" r="4.7"/><circle cx="1672.4" cy="653.9" r="4.7"/><circle cx="1673.6" cy="651.1" r="4.7"/><circle cx="1674.8" cy="651.9" r="4.7"/><circle cx="1676.1" cy="651.2" r="4.7"/><circle cx="1677.3" cy="652.9" r="4.7"/></g>
<g fill="none" stroke="#22e422" stroke-width="2.2" clip-path="url(#clipB)"><circle cx="1226.3" cy="257.3" r="4.7"/><circle cx="1227.0" cy="260.8" r="4.7"/><circle cx="1227.7" cy="265.5" r="4.7"/><circle cx="1229.1" cy="264.9" r="4.7"/><circle cx="1229.0" cy="268.8" r="4.7"/><circle cx="1231.7" cy="271.0" r="4.7"/><circle cx="1231.3" cy="278.3" r="4.7"/><circle cx="1233.6" cy="277.9" r="4.7"/><circle cx="1234.2" cy="280.3" r="4.7"/><circle cx="1236.2" cy="282.5" r="4.7"/><circle cx="1236.1" cy="289.0" r="4.7"/><circle cx="1238.2" cy="288.2" r="4.7"/><circle cx="1237.2" cy="287.2" r="4.7"/><circle cx="1239.8" cy="296.4" r="4.7"/><circle cx="1240.0" cy="294.7" r="4.7"/><circle cx="1241.4" cy="300.1" r="4.7"/><circle cx="1242.3" cy="302.3" r="4.7"/><circle cx="1244.2" cy="306.8" r="4.7"/><circle cx="1242.3" cy="308.4" r="4.7"/><circle cx="1245.6" cy="305.5" r="4.7"/><circle cx="1244.8" cy="308.6" r="4.7"/><circle cx="1248.6" cy="307.1" r="4.7"/><circle cx="1246.4" cy="317.9" r="4.7"/><circle cx="1248.4" cy="315.9" r="4.7"/><circle cx="1248.7" cy="320.5" r="4.7"/><circle cx="1253.1" cy="317.0" r="4.7"/><circle cx="1251.2" cy="313.5" r="4.7"/><circle cx="1253.6" cy="325.9" r="4.7"/><circle cx="1254.0" cy="323.1" r="4.7"/><circle cx="1253.7" cy="324.8" r="4.7"/><circle cx="1256.2" cy="326.1" r="4.7"/><circle cx="1258.2" cy="329.4" r="4.7"/><circle cx="1258.4" cy="330.7" r="4.7"/><circle cx="1260.5" cy="325.8" r="4.7"/><circle cx="1260.3" cy="335.4" r="4.7"/><circle cx="1261.7" cy="332.1" r="4.7"/><circle cx="1262.3" cy="333.8" r="4.7"/><circle cx="1264.0" cy="342.0" r="4.7"/><circle cx="1266.6" cy="341.1" r="4.7"/><circle cx="1266.1" cy="338.9" r="4.7"/><circle cx="1266.9" cy="335.9" r="4.7"/><circle cx="1267.2" cy="343.5" r="4.7"/><circle cx="1268.0" cy="346.2" r="4.7"/><circle cx="1271.3" cy="345.9" r="4.7"/><circle cx="1269.7" cy="344.0" r="4.7"/><circle cx="1270.9" cy="346.9" r="4.7"/><circle cx="1272.8" cy="347.1" r="4.7"/><circle cx="1273.5" cy="353.1" r="4.7"/><circle cx="1276.9" cy="356.5" r="4.7"/><circle cx="1273.6" cy="358.8" r="4.7"/><circle cx="1277.3" cy="355.2" r="4.7"/><circle cx="1278.7" cy="359.7" r="4.7"/><circle cx="1277.9" cy="362.4" r="4.7"/><circle cx="1279.4" cy="360.9" r="4.7"/><circle cx="1281.5" cy="363.6" r="4.7"/><circle cx="1283.7" cy="372.0" r="4.7"/><circle cx="1282.2" cy="367.8" r="4.7"/><circle cx="1282.5" cy="371.3" r="4.7"/><circle cx="1286.1" cy="368.8" r="4.7"/><circle cx="1287.7" cy="371.7" r="4.7"/><circle cx="1286.8" cy="367.8" r="4.7"/><circle cx="1286.0" cy="374.2" r="4.7"/><circle cx="1290.7" cy="379.2" r="4.7"/><circle cx="1290.0" cy="383.2" r="4.7"/><circle cx="1292.4" cy="381.8" r="4.7"/><circle cx="1292.2" cy="381.6" r="4.7"/><circle cx="1292.9" cy="380.9" r="4.7"/><circle cx="1293.9" cy="380.2" r="4.7"/><circle cx="1296.8" cy="382.7" r="4.7"/><circle cx="1297.8" cy="386.2" r="4.7"/><circle cx="1295.2" cy="383.1" r="4.7"/><circle cx="1297.5" cy="389.3" r="4.7"/><circle cx="1301.2" cy="384.7" r="4.7"/><circle cx="1300.1" cy="383.3" r="4.7"/><circle cx="1300.1" cy="386.6" r="4.7"/><circle cx="1302.5" cy="385.7" r="4.7"/><circle cx="1303.4" cy="387.6" r="4.7"/><circle cx="1304.4" cy="396.0" r="4.7"/><circle cx="1305.1" cy="393.0" r="4.7"/><circle cx="1306.3" cy="395.2" r="4.7"/><circle cx="1307.1" cy="398.9" r="4.7"/><circle cx="1309.0" cy="400.1" r="4.7"/><circle cx="1308.8" cy="395.8" r="4.7"/><circle cx="1310.4" cy="402.1" r="4.7"/><circle cx="1311.5" cy="400.2" r="4.7"/><circle cx="1314.0" cy="399.9" r="4.7"/><circle cx="1314.1" cy="402.1" r="4.7"/><circle cx="1314.6" cy="397.3" r="4.7"/><circle cx="1316.3" cy="400.1" r="4.7"/><circle cx="1317.2" cy="403.0" r="4.7"/><circle cx="1318.9" cy="406.0" r="4.7"/><circle cx="1319.3" cy="403.8" r="4.7"/><circle cx="1321.6" cy="405.4" r="4.7"/><circle cx="1322.2" cy="409.5" r="4.7"/><circle cx="1321.9" cy="411.6" r="4.7"/><circle cx="1322.5" cy="410.5" r="4.7"/><circle cx="1324.8" cy="412.7" r="4.7"/><circle cx="1325.5" cy="408.5" r="4.7"/><circle cx="1325.9" cy="409.5" r="4.7"/><circle cx="1325.5" cy="412.2" r="4.7"/><circle cx="1326.2" cy="411.0" r="4.7"/><circle cx="1329.4" cy="411.2" r="4.7"/><circle cx="1330.8" cy="418.4" r="4.7"/><circle cx="1331.9" cy="413.5" r="4.7"/><circle cx="1330.8" cy="412.0" r="4.7"/><circle cx="1334.2" cy="417.1" r="4.7"/><circle cx="1333.6" cy="421.8" r="4.7"/><circle cx="1335.6" cy="417.3" r="4.7"/><circle cx="1336.6" cy="421.5" r="4.7"/><circle cx="1336.4" cy="417.2" r="4.7"/><circle cx="1337.6" cy="417.8" r="4.7"/><circle cx="1337.2" cy="417.9" r="4.7"/><circle cx="1339.4" cy="420.3" r="4.7"/><circle cx="1339.5" cy="427.0" r="4.7"/><circle cx="1342.8" cy="418.8" r="4.7"/><circle cx="1343.4" cy="427.9" r="4.7"/><circle cx="1345.3" cy="420.7" r="4.7"/><circle cx="1345.7" cy="423.7" r="4.7"/><circle cx="1345.8" cy="427.7" r="4.7"/><circle cx="1347.8" cy="427.8" r="4.7"/><circle cx="1348.1" cy="427.5" r="4.7"/><circle cx="1350.1" cy="422.4" r="4.7"/><circle cx="1350.8" cy="429.1" r="4.7"/><circle cx="1350.5" cy="425.7" r="4.7"/><circle cx="1352.5" cy="437.1" r="4.7"/><circle cx="1353.6" cy="429.5" r="4.7"/><circle cx="1354.3" cy="431.3" r="4.7"/><circle cx="1356.5" cy="428.0" r="4.7"/><circle cx="1358.3" cy="430.6" r="4.7"/><circle cx="1357.3" cy="428.9" r="4.7"/><circle cx="1358.3" cy="436.3" r="4.7"/><circle cx="1357.4" cy="433.2" r="4.7"/><circle cx="1360.6" cy="436.3" r="4.7"/><circle cx="1361.3" cy="433.2" r="4.7"/><circle cx="1360.6" cy="434.4" r="4.7"/><circle cx="1364.1" cy="440.4" r="4.7"/><circle cx="1365.4" cy="434.2" r="4.7"/><circle cx="1365.1" cy="432.3" r="4.7"/><circle cx="1366.5" cy="439.5" r="4.7"/><circle cx="1366.9" cy="435.5" r="4.7"/><circle cx="1369.6" cy="438.1" r="4.7"/><circle cx="1368.4" cy="442.8" r="4.7"/><circle cx="1370.6" cy="438.1" r="4.7"/><circle cx="1373.9" cy="443.8" r="4.7"/><circle cx="1373.0" cy="439.6" r="4.7"/><circle cx="1374.4" cy="446.7" r="4.7"/><circle cx="1374.9" cy="446.7" r="4.7"/><circle cx="1374.8" cy="441.8" r="4.7"/><circle cx="1377.0" cy="443.1" r="4.7"/><circle cx="1378.5" cy="441.8" r="4.7"/><circle cx="1378.1" cy="445.4" r="4.7"/><circle cx="1380.5" cy="448.7" r="4.7"/><circle cx="1382.4" cy="441.4" r="4.7"/><circle cx="1383.2" cy="449.0" r="4.7"/><circle cx="1381.6" cy="442.8" r="4.7"/><circle cx="1383.2" cy="444.7" r="4.7"/><circle cx="1383.6" cy="442.3" r="4.7"/><circle cx="1387.3" cy="454.5" r="4.7"/><circle cx="1387.9" cy="448.8" r="4.7"/><circle cx="1389.0" cy="449.9" r="4.7"/><circle cx="1388.4" cy="447.6" r="4.7"/><circle cx="1389.2" cy="453.3" r="4.7"/><circle cx="1391.4" cy="444.2" r="4.7"/><circle cx="1392.5" cy="451.1" r="4.7"/><circle cx="1392.5" cy="458.1" r="4.7"/><circle cx="1394.5" cy="450.8" r="4.7"/><circle cx="1396.1" cy="452.4" r="4.7"/><circle cx="1396.7" cy="454.8" r="4.7"/><circle cx="1396.4" cy="450.8" r="4.7"/><circle cx="1396.4" cy="453.8" r="4.7"/><circle cx="1399.3" cy="457.1" r="4.7"/><circle cx="1400.7" cy="455.2" r="4.7"/><circle cx="1401.3" cy="456.2" r="4.7"/><circle cx="1402.1" cy="454.5" r="4.7"/><circle cx="1402.9" cy="457.0" r="4.7"/><circle cx="1405.3" cy="456.6" r="4.7"/><circle cx="1405.6" cy="461.3" r="4.7"/><circle cx="1406.8" cy="459.6" r="4.7"/><circle cx="1406.7" cy="457.1" r="4.7"/><circle cx="1408.1" cy="450.9" r="4.7"/><circle cx="1409.9" cy="460.9" r="4.7"/><circle cx="1409.7" cy="461.4" r="4.7"/><circle cx="1410.5" cy="456.9" r="4.7"/><circle cx="1412.5" cy="454.1" r="4.7"/><circle cx="1415.0" cy="457.1" r="4.7"/><circle cx="1415.0" cy="463.7" r="4.7"/><circle cx="1417.3" cy="458.2" r="4.7"/><circle cx="1416.7" cy="460.4" r="4.7"/><circle cx="1417.6" cy="462.9" r="4.7"/><circle cx="1417.5" cy="466.3" r="4.7"/><circle cx="1419.4" cy="463.0" r="4.7"/><circle cx="1422.4" cy="463.2" r="4.7"/><circle cx="1422.3" cy="462.3" r="4.7"/><circle cx="1423.7" cy="469.3" r="4.7"/><circle cx="1424.7" cy="468.0" r="4.7"/><circle cx="1425.0" cy="464.9" r="4.7"/><circle cx="1425.9" cy="461.4" r="4.7"/><circle cx="1427.2" cy="463.7" r="4.7"/><circle cx="1428.8" cy="468.2" r="4.7"/><circle cx="1429.6" cy="464.7" r="4.7"/><circle cx="1430.6" cy="469.9" r="4.7"/><circle cx="1431.3" cy="468.7" r="4.7"/><circle cx="1431.4" cy="468.9" r="4.7"/><circle cx="1433.0" cy="470.4" r="4.7"/><circle cx="1433.3" cy="470.4" r="4.7"/><circle cx="1436.3" cy="466.7" r="4.7"/><circle cx="1434.2" cy="468.7" r="4.7"/><circle cx="1437.1" cy="477.1" r="4.7"/><circle cx="1440.7" cy="466.9" r="4.7"/><circle cx="1439.0" cy="469.5" r="4.7"/><circle cx="1439.2" cy="474.5" r="4.7"/><circle cx="1441.4" cy="471.2" r="4.7"/><circle cx="1443.7" cy="469.6" r="4.7"/><circle cx="1443.3" cy="468.5" r="4.7"/><circle cx="1445.1" cy="474.4" r="4.7"/><circle cx="1445.6" cy="476.2" r="4.7"/><circle cx="1446.1" cy="477.8" r="4.7"/><circle cx="1450.7" cy="474.1" r="4.7"/><circle cx="1448.6" cy="477.4" r="4.7"/><circle cx="1449.0" cy="471.6" r="4.7"/><circle cx="1450.1" cy="475.5" r="4.7"/><circle cx="1452.0" cy="473.3" r="4.7"/><circle cx="1453.0" cy="476.2" r="4.7"/><circle cx="1454.4" cy="478.3" r="4.7"/><circle cx="1454.8" cy="479.6" r="4.7"/><circle cx="1454.2" cy="473.8" r="4.7"/><circle cx="1457.2" cy="480.9" r="4.7"/><circle cx="1457.4" cy="476.0" r="4.7"/><circle cx="1458.5" cy="474.7" r="4.7"/><circle cx="1458.3" cy="477.6" r="4.7"/><circle cx="1460.2" cy="474.0" r="4.7"/><circle cx="1461.1" cy="478.7" r="4.7"/><circle cx="1462.8" cy="479.9" r="4.7"/><circle cx="1462.4" cy="478.8" r="4.7"/><circle cx="1464.9" cy="481.3" r="4.7"/><circle cx="1466.0" cy="479.1" r="4.7"/><circle cx="1465.8" cy="480.4" r="4.7"/><circle cx="1467.3" cy="476.3" r="4.7"/><circle cx="1468.1" cy="481.1" r="4.7"/><circle cx="1470.9" cy="478.7" r="4.7"/><circle cx="1468.5" cy="480.2" r="4.7"/><circle cx="1471.7" cy="481.6" r="4.7"/><circle cx="1471.4" cy="482.7" r="4.7"/><circle cx="1473.6" cy="477.5" r="4.7"/><circle cx="1475.9" cy="478.0" r="4.7"/><circle cx="1475.5" cy="482.0" r="4.7"/><circle cx="1477.3" cy="484.6" r="4.7"/><circle cx="1477.3" cy="484.5" r="4.7"/><circle cx="1481.1" cy="486.3" r="4.7"/><circle cx="1481.1" cy="487.7" r="4.7"/><circle cx="1482.3" cy="485.5" r="4.7"/><circle cx="1480.9" cy="484.1" r="4.7"/><circle cx="1482.2" cy="481.3" r="4.7"/><circle cx="1485.4" cy="481.7" r="4.7"/><circle cx="1485.1" cy="483.3" r="4.7"/><circle cx="1486.1" cy="485.6" r="4.7"/><circle cx="1487.7" cy="485.6" r="4.7"/><circle cx="1487.1" cy="485.1" r="4.7"/><circle cx="1490.2" cy="484.8" r="4.7"/><circle cx="1490.4" cy="487.3" r="4.7"/><circle cx="1491.9" cy="486.1" r="4.7"/><circle cx="1491.8" cy="486.5" r="4.7"/><circle cx="1494.0" cy="486.7" r="4.7"/><circle cx="1493.8" cy="484.2" r="4.7"/><circle cx="1496.5" cy="482.9" r="4.7"/><circle cx="1497.7" cy="487.6" r="4.7"/><circle cx="1498.5" cy="487.5" r="4.7"/><circle cx="1499.1" cy="485.8" r="4.7"/><circle cx="1500.2" cy="485.3" r="4.7"/><circle cx="1497.9" cy="493.5" r="4.7"/><circle cx="1502.5" cy="484.6" r="4.7"/><circle cx="1502.4" cy="486.4" r="4.7"/><circle cx="1503.8" cy="488.1" r="4.7"/><circle cx="1504.4" cy="484.1" r="4.7"/><circle cx="1504.3" cy="488.2" r="4.7"/><circle cx="1506.2" cy="493.5" r="4.7"/><circle cx="1508.4" cy="491.2" r="4.7"/><circle cx="1510.2" cy="490.6" r="4.7"/><circle cx="1509.2" cy="490.8" r="4.7"/><circle cx="1509.9" cy="489.6" r="4.7"/><circle cx="1513.3" cy="492.4" r="4.7"/><circle cx="1512.0" cy="489.3" r="4.7"/><circle cx="1516.0" cy="488.6" r="4.7"/><circle cx="1515.0" cy="490.4" r="4.7"/><circle cx="1515.1" cy="492.9" r="4.7"/><circle cx="1517.9" cy="491.2" r="4.7"/><circle cx="1519.7" cy="492.3" r="4.7"/><circle cx="1517.6" cy="484.2" r="4.7"/><circle cx="1521.6" cy="493.9" r="4.7"/><circle cx="1520.8" cy="497.3" r="4.7"/><circle cx="1523.5" cy="494.2" r="4.7"/><circle cx="1522.7" cy="489.2" r="4.7"/><circle cx="1522.5" cy="487.6" r="4.7"/><circle cx="1525.6" cy="490.9" r="4.7"/><circle cx="1527.1" cy="487.0" r="4.7"/><circle cx="1529.3" cy="492.1" r="4.7"/><circle cx="1529.9" cy="488.3" r="4.7"/><circle cx="1529.9" cy="492.7" r="4.7"/><circle cx="1530.0" cy="493.8" r="4.7"/><circle cx="1530.7" cy="483.6" r="4.7"/><circle cx="1532.0" cy="490.5" r="4.7"/><circle cx="1532.5" cy="487.5" r="4.7"/><circle cx="1534.0" cy="485.3" r="4.7"/><circle cx="1532.8" cy="487.7" r="4.7"/><circle cx="1536.5" cy="488.9" r="4.7"/><circle cx="1537.4" cy="492.7" r="4.7"/><circle cx="1541.0" cy="485.1" r="4.7"/><circle cx="1540.2" cy="492.9" r="4.7"/><circle cx="1540.0" cy="495.9" r="4.7"/><circle cx="1542.0" cy="491.7" r="4.7"/><circle cx="1541.3" cy="491.7" r="4.7"/><circle cx="1542.9" cy="490.1" r="4.7"/><circle cx="1542.7" cy="486.8" r="4.7"/><circle cx="1547.0" cy="492.0" r="4.7"/><circle cx="1547.2" cy="491.7" r="4.7"/><circle cx="1546.4" cy="492.9" r="4.7"/><circle cx="1548.6" cy="498.5" r="4.7"/><circle cx="1550.6" cy="493.2" r="4.7"/><circle cx="1551.2" cy="492.4" r="4.7"/><circle cx="1552.1" cy="496.0" r="4.7"/><circle cx="1551.8" cy="487.4" r="4.7"/><circle cx="1553.1" cy="488.2" r="4.7"/><circle cx="1554.8" cy="490.6" r="4.7"/><circle cx="1556.7" cy="489.9" r="4.7"/><circle cx="1556.0" cy="494.2" r="4.7"/><circle cx="1556.7" cy="491.3" r="4.7"/><circle cx="1560.0" cy="497.6" r="4.7"/><circle cx="1558.9" cy="497.1" r="4.7"/><circle cx="1561.9" cy="495.0" r="4.7"/><circle cx="1562.1" cy="491.7" r="4.7"/><circle cx="1563.8" cy="494.9" r="4.7"/><circle cx="1565.7" cy="495.6" r="4.7"/><circle cx="1565.6" cy="490.1" r="4.7"/><circle cx="1566.8" cy="494.5" r="4.7"/><circle cx="1566.1" cy="495.7" r="4.7"/><circle cx="1567.3" cy="494.4" r="4.7"/><circle cx="1569.7" cy="498.6" r="4.7"/><circle cx="1571.6" cy="497.7" r="4.7"/><circle cx="1572.5" cy="491.7" r="4.7"/><circle cx="1574.4" cy="494.7" r="4.7"/><circle cx="1573.4" cy="492.0" r="4.7"/><circle cx="1574.3" cy="496.3" r="4.7"/><circle cx="1576.2" cy="492.1" r="4.7"/><circle cx="1576.2" cy="497.7" r="4.7"/><circle cx="1577.1" cy="496.2" r="4.7"/><circle cx="1577.2" cy="498.1" r="4.7"/><circle cx="1580.2" cy="494.9" r="4.7"/><circle cx="1579.2" cy="491.1" r="4.7"/><circle cx="1581.8" cy="500.9" r="4.7"/><circle cx="1580.9" cy="495.2" r="4.7"/><circle cx="1584.4" cy="500.0" r="4.7"/><circle cx="1583.3" cy="497.3" r="4.7"/><circle cx="1586.2" cy="498.1" r="4.7"/><circle cx="1584.8" cy="501.7" r="4.7"/><circle cx="1587.0" cy="497.4" r="4.7"/><circle cx="1589.6" cy="500.7" r="4.7"/><circle cx="1588.7" cy="492.2" r="4.7"/><circle cx="1590.6" cy="499.4" r="4.7"/><circle cx="1591.0" cy="496.2" r="4.7"/><circle cx="1590.2" cy="496.6" r="4.7"/><circle cx="1593.9" cy="497.2" r="4.7"/><circle cx="1595.0" cy="498.3" r="4.7"/><circle cx="1594.5" cy="502.3" r="4.7"/><circle cx="1597.2" cy="491.9" r="4.7"/><circle cx="1596.8" cy="497.7" r="4.7"/><circle cx="1597.7" cy="495.6" r="4.7"/><circle cx="1599.7" cy="501.3" r="4.7"/><circle cx="1600.0" cy="496.7" r="4.7"/><circle cx="1604.0" cy="499.4" r="4.7"/><circle cx="1601.2" cy="497.0" r="4.7"/><circle cx="1604.5" cy="500.3" r="4.7"/><circle cx="1605.8" cy="501.4" r="4.7"/><circle cx="1603.8" cy="497.3" r="4.7"/><circle cx="1605.1" cy="498.8" r="4.7"/><circle cx="1608.4" cy="494.4" r="4.7"/><circle cx="1608.4" cy="499.7" r="4.7"/><circle cx="1610.3" cy="501.5" r="4.7"/><circle cx="1612.1" cy="497.4" r="4.7"/><circle cx="1611.6" cy="502.5" r="4.7"/><circle cx="1611.9" cy="493.0" r="4.7"/><circle cx="1611.2" cy="493.8" r="4.7"/><circle cx="1615.2" cy="495.3" r="4.7"/><circle cx="1615.1" cy="498.1" r="4.7"/><circle cx="1617.4" cy="499.7" r="4.7"/><circle cx="1618.3" cy="499.5" r="4.7"/><circle cx="1617.7" cy="499.6" r="4.7"/><circle cx="1621.8" cy="502.1" r="4.7"/><circle cx="1622.2" cy="498.6" r="4.7"/><circle cx="1623.0" cy="496.3" r="4.7"/><circle cx="1622.0" cy="496.5" r="4.7"/><circle cx="1623.8" cy="506.6" r="4.7"/><circle cx="1624.7" cy="493.3" r="4.7"/><circle cx="1625.8" cy="499.9" r="4.7"/><circle cx="1626.1" cy="504.9" r="4.7"/><circle cx="1628.7" cy="502.1" r="4.7"/><circle cx="1629.5" cy="498.3" r="4.7"/><circle cx="1630.7" cy="500.8" r="4.7"/><circle cx="1630.8" cy="503.5" r="4.7"/><circle cx="1633.6" cy="504.6" r="4.7"/><circle cx="1633.6" cy="498.4" r="4.7"/><circle cx="1631.7" cy="503.4" r="4.7"/><circle cx="1224.8" cy="652.8" r="4.7"/><circle cx="1226.6" cy="651.6" r="4.7"/><circle cx="1634.4" cy="651.3" r="4.7"/><circle cx="1635.6" cy="652.2" r="4.7"/><circle cx="1636.9" cy="652.5" r="4.7"/><circle cx="1638.1" cy="650.6" r="4.7"/><circle cx="1639.3" cy="649.4" r="4.7"/><circle cx="1640.5" cy="651.4" r="4.7"/><circle cx="1641.8" cy="653.0" r="4.7"/><circle cx="1643.0" cy="651.8" r="4.7"/><circle cx="1644.2" cy="651.3" r="4.7"/><circle cx="1645.4" cy="653.6" r="4.7"/><circle cx="1646.7" cy="649.9" r="4.7"/><circle cx="1647.9" cy="652.0" r="4.7"/><circle cx="1649.1" cy="650.4" r="4.7"/><circle cx="1650.3" cy="651.1" r="4.7"/><circle cx="1651.6" cy="651.1" r="4.7"/><circle cx="1652.8" cy="652.7" r="4.7"/><circle cx="1654.0" cy="650.0" r="4.7"/><circle cx="1655.2" cy="650.4" r="4.7"/><circle cx="1656.5" cy="649.2" r="4.7"/><circle cx="1657.7" cy="651.5" r="4.7"/><circle cx="1658.9" cy="650.5" r="4.7"/><circle cx="1660.1" cy="651.5" r="4.7"/><circle cx="1661.4" cy="649.8" r="4.7"/><circle cx="1662.6" cy="650.6" r="4.7"/><circle cx="1663.8" cy="652.1" r="4.7"/><circle cx="1665.0" cy="650.8" r="4.7"/><circle cx="1666.3" cy="651.7" r="4.7"/><circle cx="1667.5" cy="651.6" r="4.7"/><circle cx="1668.7" cy="650.6" r="4.7"/><circle cx="1669.9" cy="649.3" r="4.7"/><circle cx="1671.2" cy="652.1" r="4.7"/><circle cx="1672.4" cy="651.2" r="4.7"/><circle cx="1673.6" cy="652.1" r="4.7"/><circle cx="1674.8" cy="648.8" r="4.7"/><circle cx="1676.1" cy="649.2" r="4.7"/><circle cx="1677.3" cy="648.6" r="4.7"/></g>
<g fill="none" stroke="#1010c4" stroke-width="2.2" clip-path="url(#clipB)"><circle cx="1225.0" cy="332.3" r="4.7"/><circle cx="1228.0" cy="337.4" r="4.7"/><circle cx="1228.5" cy="339.5" r="4.7"/><circle cx="1228.9" cy="339.1" r="4.7"/><circle cx="1230.1" cy="347.5" r="4.7"/><circle cx="1231.8" cy="339.9" r="4.7"/><circle cx="1231.7" cy="346.4" r="4.7"/><circle cx="1233.4" cy="354.7" r="4.7"/><circle cx="1234.2" cy="350.8" r="4.7"/><circle cx="1232.9" cy="349.6" r="4.7"/><circle cx="1235.7" cy="360.9" r="4.7"/><circle cx="1238.5" cy="360.6" r="4.7"/><circle cx="1237.8" cy="357.6" r="4.7"/><circle cx="1239.0" cy="365.7" r="4.7"/><circle cx="1239.6" cy="362.4" r="4.7"/><circle cx="1240.7" cy="363.5" r="4.7"/><circle cx="1243.4" cy="369.2" r="4.7"/><circle cx="1243.0" cy="370.2" r="4.7"/><circle cx="1243.3" cy="370.3" r="4.7"/><circle cx="1242.2" cy="374.4" r="4.7"/><circle cx="1245.8" cy="374.4" r="4.7"/><circle cx="1245.4" cy="379.5" r="4.7"/><circle cx="1246.5" cy="381.1" r="4.7"/><circle cx="1250.2" cy="385.2" r="4.7"/><circle cx="1251.1" cy="383.4" r="4.7"/><circle cx="1249.5" cy="382.6" r="4.7"/><circle cx="1253.3" cy="384.4" r="4.7"/><circle cx="1253.9" cy="389.3" r="4.7"/><circle cx="1253.7" cy="396.3" r="4.7"/><circle cx="1256.3" cy="395.8" r="4.7"/><circle cx="1254.9" cy="392.8" r="4.7"/><circle cx="1256.4" cy="399.0" r="4.7"/><circle cx="1257.1" cy="394.0" r="4.7"/><circle cx="1258.5" cy="401.8" r="4.7"/><circle cx="1261.5" cy="398.9" r="4.7"/><circle cx="1260.3" cy="403.5" r="4.7"/><circle cx="1261.5" cy="404.2" r="4.7"/><circle cx="1262.7" cy="402.7" r="4.7"/><circle cx="1264.9" cy="405.6" r="4.7"/><circle cx="1265.4" cy="402.5" r="4.7"/><circle cx="1267.6" cy="406.6" r="4.7"/><circle cx="1267.1" cy="411.1" r="4.7"/><circle cx="1267.5" cy="421.3" r="4.7"/><circle cx="1269.3" cy="412.3" r="4.7"/><circle cx="1270.9" cy="411.6" r="4.7"/><circle cx="1270.9" cy="409.5" r="4.7"/><circle cx="1273.2" cy="417.0" r="4.7"/><circle cx="1275.7" cy="410.2" r="4.7"/><circle cx="1274.3" cy="414.2" r="4.7"/><circle cx="1276.0" cy="419.0" r="4.7"/><circle cx="1278.3" cy="415.7" r="4.7"/><circle cx="1277.3" cy="425.3" r="4.7"/><circle cx="1278.1" cy="425.2" r="4.7"/><circle cx="1278.9" cy="421.5" r="4.7"/><circle cx="1281.4" cy="422.6" r="4.7"/><circle cx="1282.6" cy="421.5" r="4.7"/><circle cx="1282.9" cy="422.3" r="4.7"/><circle cx="1284.1" cy="429.0" r="4.7"/><circle cx="1286.4" cy="430.6" r="4.7"/><circle cx="1287.0" cy="430.8" r="4.7"/><circle cx="1285.8" cy="431.6" r="4.7"/><circle cx="1288.2" cy="430.1" r="4.7"/><circle cx="1289.3" cy="433.9" r="4.7"/><circle cx="1290.9" cy="429.3" r="4.7"/><circle cx="1291.0" cy="434.7" r="4.7"/><circle cx="1291.6" cy="440.1" r="4.7"/><circle cx="1292.8" cy="440.6" r="4.7"/><circle cx="1292.5" cy="436.1" r="4.7"/><circle cx="1295.3" cy="437.4" r="4.7"/><circle cx="1295.7" cy="443.4" r="4.7"/><circle cx="1297.8" cy="445.5" r="4.7"/><circle cx="1297.4" cy="436.5" r="4.7"/><circle cx="1299.0" cy="440.5" r="4.7"/><circle cx="1299.4" cy="443.3" r="4.7"/><circle cx="1300.4" cy="447.1" r="4.7"/><circle cx="1303.2" cy="441.7" r="4.7"/><circle cx="1303.0" cy="446.9" r="4.7"/><circle cx="1304.9" cy="444.8" r="4.7"/><circle cx="1304.4" cy="453.6" r="4.7"/><circle cx="1306.6" cy="448.5" r="4.7"/><circle cx="1305.9" cy="447.5" r="4.7"/><circle cx="1308.1" cy="447.6" r="4.7"/><circle cx="1309.1" cy="452.5" r="4.7"/><circle cx="1311.2" cy="452.1" r="4.7"/><circle cx="1311.8" cy="447.5" r="4.7"/><circle cx="1312.5" cy="452.1" r="4.7"/><circle cx="1314.5" cy="448.1" r="4.7"/><circle cx="1314.9" cy="450.5" r="4.7"/><circle cx="1316.3" cy="449.5" r="4.7"/><circle cx="1317.5" cy="450.1" r="4.7"/><circle cx="1317.7" cy="452.7" r="4.7"/><circle cx="1318.5" cy="452.5" r="4.7"/><circle cx="1320.1" cy="457.8" r="4.7"/><circle cx="1320.4" cy="459.2" r="4.7"/><circle cx="1322.2" cy="456.8" r="4.7"/><circle cx="1324.0" cy="454.8" r="4.7"/><circle cx="1324.7" cy="461.3" r="4.7"/><circle cx="1324.5" cy="453.4" r="4.7"/><circle cx="1324.7" cy="454.3" r="4.7"/><circle cx="1326.9" cy="463.0" r="4.7"/><circle cx="1327.9" cy="463.4" r="4.7"/><circle cx="1330.1" cy="465.0" r="4.7"/><circle cx="1329.6" cy="462.1" r="4.7"/><circle cx="1330.8" cy="459.6" r="4.7"/><circle cx="1332.8" cy="462.5" r="4.7"/><circle cx="1332.6" cy="466.3" r="4.7"/><circle cx="1333.9" cy="462.9" r="4.7"/><circle cx="1336.8" cy="463.8" r="4.7"/><circle cx="1337.6" cy="462.3" r="4.7"/><circle cx="1337.8" cy="463.6" r="4.7"/><circle cx="1338.5" cy="470.3" r="4.7"/><circle cx="1338.2" cy="469.7" r="4.7"/><circle cx="1340.8" cy="465.4" r="4.7"/><circle cx="1341.3" cy="466.3" r="4.7"/><circle cx="1342.5" cy="468.5" r="4.7"/><circle cx="1342.8" cy="472.4" r="4.7"/><circle cx="1344.3" cy="467.9" r="4.7"/><circle cx="1345.2" cy="471.5" r="4.7"/><circle cx="1346.7" cy="466.1" r="4.7"/><circle cx="1348.8" cy="469.4" r="4.7"/><circle cx="1348.8" cy="475.0" r="4.7"/><circle cx="1347.8" cy="477.0" r="4.7"/><circle cx="1349.5" cy="471.4" r="4.7"/><circle cx="1349.9" cy="473.1" r="4.7"/><circle cx="1351.7" cy="478.4" r="4.7"/><circle cx="1354.1" cy="475.4" r="4.7"/><circle cx="1354.9" cy="475.5" r="4.7"/><circle cx="1355.0" cy="479.2" r="4.7"/><circle cx="1356.8" cy="478.7" r="4.7"/><circle cx="1356.8" cy="482.0" r="4.7"/><circle cx="1357.2" cy="481.5" r="4.7"/><circle cx="1358.2" cy="477.9" r="4.7"/><circle cx="1359.8" cy="479.8" r="4.7"/><circle cx="1363.1" cy="480.4" r="4.7"/><circle cx="1361.4" cy="477.0" r="4.7"/><circle cx="1365.0" cy="478.6" r="4.7"/><circle cx="1366.1" cy="485.0" r="4.7"/><circle cx="1365.6" cy="477.7" r="4.7"/><circle cx="1366.7" cy="486.0" r="4.7"/><circle cx="1367.2" cy="484.3" r="4.7"/><circle cx="1368.8" cy="483.5" r="4.7"/><circle cx="1370.5" cy="485.9" r="4.7"/><circle cx="1370.9" cy="486.2" r="4.7"/><circle cx="1372.9" cy="488.8" r="4.7"/><circle cx="1374.1" cy="484.4" r="4.7"/><circle cx="1374.3" cy="485.4" r="4.7"/><circle cx="1375.3" cy="485.7" r="4.7"/><circle cx="1375.9" cy="492.6" r="4.7"/><circle cx="1377.3" cy="490.2" r="4.7"/><circle cx="1376.9" cy="485.0" r="4.7"/><circle cx="1379.4" cy="487.1" r="4.7"/><circle cx="1380.3" cy="486.4" r="4.7"/><circle cx="1380.2" cy="489.0" r="4.7"/><circle cx="1384.2" cy="490.0" r="4.7"/><circle cx="1382.2" cy="496.7" r="4.7"/><circle cx="1383.3" cy="484.7" r="4.7"/><circle cx="1385.4" cy="493.6" r="4.7"/><circle cx="1384.3" cy="492.2" r="4.7"/><circle cx="1386.4" cy="489.2" r="4.7"/><circle cx="1386.7" cy="491.2" r="4.7"/><circle cx="1388.3" cy="490.6" r="4.7"/><circle cx="1390.1" cy="492.6" r="4.7"/><circle cx="1391.6" cy="495.8" r="4.7"/><circle cx="1393.4" cy="488.6" r="4.7"/><circle cx="1394.1" cy="497.5" r="4.7"/><circle cx="1395.5" cy="492.8" r="4.7"/><circle cx="1396.0" cy="498.8" r="4.7"/><circle cx="1395.9" cy="495.8" r="4.7"/><circle cx="1398.5" cy="498.7" r="4.7"/><circle cx="1398.0" cy="497.0" r="4.7"/><circle cx="1398.8" cy="498.9" r="4.7"/><circle cx="1402.0" cy="496.1" r="4.7"/><circle cx="1402.3" cy="493.8" r="4.7"/><circle cx="1402.7" cy="498.7" r="4.7"/><circle cx="1404.3" cy="499.1" r="4.7"/><circle cx="1405.4" cy="503.6" r="4.7"/><circle cx="1404.2" cy="491.6" r="4.7"/><circle cx="1406.5" cy="497.4" r="4.7"/><circle cx="1406.5" cy="501.5" r="4.7"/><circle cx="1408.8" cy="494.8" r="4.7"/><circle cx="1409.0" cy="498.2" r="4.7"/><circle cx="1412.0" cy="505.6" r="4.7"/><circle cx="1412.2" cy="503.8" r="4.7"/><circle cx="1411.9" cy="497.2" r="4.7"/><circle cx="1413.7" cy="504.4" r="4.7"/><circle cx="1413.6" cy="504.0" r="4.7"/><circle cx="1415.8" cy="503.1" r="4.7"/><circle cx="1417.4" cy="502.2" r="4.7"/><circle cx="1418.1" cy="502.0" r="4.7"/><circle cx="1416.9" cy="499.0" r="4.7"/><circle cx="1419.5" cy="500.3" r="4.7"/><circle cx="1421.4" cy="504.4" r="4.7"/><circle cx="1422.2" cy="502.9" r="4.7"/><circle cx="1424.1" cy="508.3" r="4.7"/><circle cx="1422.7" cy="502.0" r="4.7"/><circle cx="1425.5" cy="496.1" r="4.7"/><circle cx="1425.4" cy="502.6" r="4.7"/><circle cx="1427.2" cy="504.7" r="4.7"/><circle cx="1428.5" cy="505.3" r="4.7"/><circle cx="1429.8" cy="504.6" r="4.7"/><circle cx="1429.5" cy="502.2" r="4.7"/><circle cx="1431.3" cy="509.4" r="4.7"/><circle cx="1431.0" cy="503.2" r="4.7"/><circle cx="1431.7" cy="507.6" r="4.7"/><circle cx="1434.7" cy="504.8" r="4.7"/><circle cx="1435.1" cy="502.3" r="4.7"/><circle cx="1434.6" cy="510.4" r="4.7"/><circle cx="1436.4" cy="498.9" r="4.7"/><circle cx="1438.3" cy="504.1" r="4.7"/><circle cx="1440.8" cy="508.2" r="4.7"/><circle cx="1441.3" cy="506.1" r="4.7"/><circle cx="1442.1" cy="509.6" r="4.7"/><circle cx="1440.6" cy="507.3" r="4.7"/><circle cx="1443.3" cy="506.5" r="4.7"/><circle cx="1444.9" cy="514.6" r="4.7"/><circle cx="1445.8" cy="507.7" r="4.7"/><circle cx="1446.8" cy="508.1" r="4.7"/><circle cx="1447.2" cy="505.5" r="4.7"/><circle cx="1450.2" cy="506.8" r="4.7"/><circle cx="1451.0" cy="511.2" r="4.7"/><circle cx="1450.4" cy="511.2" r="4.7"/><circle cx="1450.6" cy="509.7" r="4.7"/><circle cx="1454.6" cy="507.8" r="4.7"/><circle cx="1453.0" cy="512.2" r="4.7"/><circle cx="1455.8" cy="505.3" r="4.7"/><circle cx="1457.5" cy="509.6" r="4.7"/><circle cx="1455.7" cy="510.0" r="4.7"/><circle cx="1458.0" cy="508.5" r="4.7"/><circle cx="1458.3" cy="511.7" r="4.7"/><circle cx="1460.2" cy="509.4" r="4.7"/><circle cx="1461.0" cy="509.2" r="4.7"/><circle cx="1463.7" cy="517.3" r="4.7"/><circle cx="1463.4" cy="514.3" r="4.7"/><circle cx="1463.8" cy="515.9" r="4.7"/><circle cx="1465.9" cy="512.6" r="4.7"/><circle cx="1465.6" cy="515.5" r="4.7"/><circle cx="1466.5" cy="515.2" r="4.7"/><circle cx="1470.1" cy="516.7" r="4.7"/><circle cx="1468.1" cy="520.3" r="4.7"/><circle cx="1469.4" cy="512.7" r="4.7"/><circle cx="1471.0" cy="514.4" r="4.7"/><circle cx="1470.9" cy="513.6" r="4.7"/><circle cx="1470.9" cy="503.4" r="4.7"/><circle cx="1475.1" cy="510.0" r="4.7"/><circle cx="1474.2" cy="514.4" r="4.7"/><circle cx="1475.5" cy="516.4" r="4.7"/><circle cx="1476.7" cy="512.9" r="4.7"/><circle cx="1477.1" cy="518.2" r="4.7"/><circle cx="1478.0" cy="518.9" r="4.7"/><circle cx="1480.3" cy="513.9" r="4.7"/><circle cx="1483.6" cy="519.6" r="4.7"/><circle cx="1482.9" cy="520.7" r="4.7"/><circle cx="1483.9" cy="517.0" r="4.7"/><circle cx="1482.7" cy="512.8" r="4.7"/><circle cx="1485.2" cy="520.3" r="4.7"/><circle cx="1485.1" cy="515.6" r="4.7"/><circle cx="1488.1" cy="515.1" r="4.7"/><circle cx="1488.1" cy="516.7" r="4.7"/><circle cx="1489.4" cy="514.9" r="4.7"/><circle cx="1490.3" cy="519.9" r="4.7"/><circle cx="1490.8" cy="519.1" r="4.7"/><circle cx="1490.9" cy="520.6" r="4.7"/><circle cx="1494.0" cy="518.8" r="4.7"/><circle cx="1493.0" cy="514.8" r="4.7"/><circle cx="1494.3" cy="516.8" r="4.7"/><circle cx="1496.2" cy="520.0" r="4.7"/><circle cx="1496.8" cy="516.3" r="4.7"/><circle cx="1498.8" cy="526.4" r="4.7"/><circle cx="1500.5" cy="517.0" r="4.7"/><circle cx="1500.8" cy="516.1" r="4.7"/><circle cx="1501.8" cy="521.4" r="4.7"/><circle cx="1502.6" cy="520.4" r="4.7"/><circle cx="1504.5" cy="518.2" r="4.7"/><circle cx="1502.8" cy="517.7" r="4.7"/><circle cx="1506.0" cy="519.7" r="4.7"/><circle cx="1505.8" cy="521.1" r="4.7"/><circle cx="1506.5" cy="521.0" r="4.7"/><circle cx="1508.7" cy="517.9" r="4.7"/><circle cx="1509.4" cy="520.2" r="4.7"/><circle cx="1511.4" cy="521.6" r="4.7"/><circle cx="1512.9" cy="521.5" r="4.7"/><circle cx="1510.5" cy="510.0" r="4.7"/><circle cx="1513.8" cy="516.7" r="4.7"/><circle cx="1516.8" cy="517.2" r="4.7"/><circle cx="1516.7" cy="519.0" r="4.7"/><circle cx="1518.3" cy="520.3" r="4.7"/><circle cx="1518.0" cy="522.7" r="4.7"/><circle cx="1517.5" cy="521.9" r="4.7"/><circle cx="1518.8" cy="519.8" r="4.7"/><circle cx="1521.7" cy="520.3" r="4.7"/><circle cx="1523.0" cy="525.7" r="4.7"/><circle cx="1522.3" cy="518.7" r="4.7"/><circle cx="1523.8" cy="521.6" r="4.7"/><circle cx="1525.3" cy="525.5" r="4.7"/><circle cx="1524.3" cy="522.0" r="4.7"/><circle cx="1526.8" cy="515.0" r="4.7"/><circle cx="1529.7" cy="522.4" r="4.7"/><circle cx="1531.3" cy="520.3" r="4.7"/><circle cx="1530.1" cy="521.3" r="4.7"/><circle cx="1533.0" cy="525.0" r="4.7"/><circle cx="1531.7" cy="523.4" r="4.7"/><circle cx="1532.4" cy="521.3" r="4.7"/><circle cx="1532.0" cy="525.0" r="4.7"/><circle cx="1536.2" cy="523.8" r="4.7"/><circle cx="1535.9" cy="522.9" r="4.7"/><circle cx="1539.7" cy="523.7" r="4.7"/><circle cx="1538.7" cy="523.7" r="4.7"/><circle cx="1539.6" cy="522.1" r="4.7"/><circle cx="1538.6" cy="521.8" r="4.7"/><circle cx="1542.9" cy="523.4" r="4.7"/><circle cx="1542.1" cy="520.6" r="4.7"/><circle cx="1543.3" cy="519.9" r="4.7"/><circle cx="1542.3" cy="527.7" r="4.7"/><circle cx="1546.4" cy="523.2" r="4.7"/><circle cx="1547.5" cy="523.9" r="4.7"/><circle cx="1546.9" cy="523.7" r="4.7"/><circle cx="1548.7" cy="524.3" r="4.7"/><circle cx="1550.0" cy="524.4" r="4.7"/><circle cx="1551.6" cy="524.6" r="4.7"/><circle cx="1551.7" cy="522.1" r="4.7"/><circle cx="1554.4" cy="527.3" r="4.7"/><circle cx="1553.4" cy="522.6" r="4.7"/><circle cx="1554.1" cy="527.8" r="4.7"/><circle cx="1555.2" cy="519.0" r="4.7"/><circle cx="1554.2" cy="521.7" r="4.7"/><circle cx="1556.9" cy="527.9" r="4.7"/><circle cx="1559.8" cy="524.6" r="4.7"/><circle cx="1560.1" cy="523.1" r="4.7"/><circle cx="1560.0" cy="526.3" r="4.7"/><circle cx="1562.2" cy="522.1" r="4.7"/><circle cx="1560.8" cy="525.5" r="4.7"/><circle cx="1563.6" cy="518.7" r="4.7"/><circle cx="1565.4" cy="524.1" r="4.7"/><circle cx="1566.6" cy="523.6" r="4.7"/><circle cx="1566.2" cy="527.2" r="4.7"/><circle cx="1568.9" cy="528.3" r="4.7"/><circle cx="1570.9" cy="523.2" r="4.7"/><circle cx="1569.6" cy="530.6" r="4.7"/><circle cx="1571.8" cy="524.1" r="4.7"/><circle cx="1570.5" cy="519.8" r="4.7"/><circle cx="1571.1" cy="518.9" r="4.7"/><circle cx="1574.7" cy="530.7" r="4.7"/><circle cx="1575.2" cy="525.9" r="4.7"/><circle cx="1576.3" cy="524.3" r="4.7"/><circle cx="1576.6" cy="524.1" r="4.7"/><circle cx="1577.9" cy="523.1" r="4.7"/><circle cx="1580.0" cy="530.6" r="4.7"/><circle cx="1581.9" cy="526.4" r="4.7"/><circle cx="1581.0" cy="532.1" r="4.7"/><circle cx="1580.6" cy="526.2" r="4.7"/><circle cx="1584.6" cy="519.9" r="4.7"/><circle cx="1584.9" cy="529.5" r="4.7"/><circle cx="1586.0" cy="526.0" r="4.7"/><circle cx="1586.5" cy="526.5" r="4.7"/><circle cx="1589.7" cy="532.0" r="4.7"/><circle cx="1588.5" cy="526.6" r="4.7"/><circle cx="1589.9" cy="531.0" r="4.7"/><circle cx="1588.6" cy="527.6" r="4.7"/><circle cx="1590.9" cy="525.5" r="4.7"/><circle cx="1591.8" cy="529.4" r="4.7"/><circle cx="1593.5" cy="526.1" r="4.7"/><circle cx="1594.9" cy="531.7" r="4.7"/><circle cx="1594.8" cy="531.0" r="4.7"/><circle cx="1598.3" cy="528.4" r="4.7"/><circle cx="1596.5" cy="530.1" r="4.7"/><circle cx="1598.2" cy="530.1" r="4.7"/><circle cx="1599.9" cy="527.7" r="4.7"/><circle cx="1599.4" cy="531.2" r="4.7"/><circle cx="1602.2" cy="527.9" r="4.7"/><circle cx="1603.3" cy="530.5" r="4.7"/><circle cx="1603.4" cy="525.9" r="4.7"/><circle cx="1606.6" cy="529.1" r="4.7"/><circle cx="1605.8" cy="530.1" r="4.7"/><circle cx="1607.1" cy="526.6" r="4.7"/><circle cx="1606.8" cy="527.7" r="4.7"/><circle cx="1607.1" cy="527.4" r="4.7"/><circle cx="1609.2" cy="531.3" r="4.7"/><circle cx="1610.5" cy="527.0" r="4.7"/><circle cx="1611.4" cy="530.5" r="4.7"/><circle cx="1613.7" cy="533.8" r="4.7"/><circle cx="1611.5" cy="530.4" r="4.7"/><circle cx="1613.8" cy="524.5" r="4.7"/><circle cx="1614.1" cy="529.8" r="4.7"/><circle cx="1618.3" cy="532.6" r="4.7"/><circle cx="1617.4" cy="528.6" r="4.7"/><circle cx="1618.5" cy="532.9" r="4.7"/><circle cx="1618.9" cy="531.4" r="4.7"/><circle cx="1622.0" cy="530.9" r="4.7"/><circle cx="1621.7" cy="528.9" r="4.7"/><circle cx="1623.3" cy="528.2" r="4.7"/><circle cx="1622.1" cy="529.0" r="4.7"/><circle cx="1626.3" cy="530.0" r="4.7"/><circle cx="1626.6" cy="531.4" r="4.7"/><circle cx="1627.8" cy="531.1" r="4.7"/><circle cx="1629.5" cy="529.0" r="4.7"/><circle cx="1629.1" cy="530.1" r="4.7"/><circle cx="1630.1" cy="531.1" r="4.7"/><circle cx="1632.0" cy="525.1" r="4.7"/><circle cx="1632.7" cy="527.7" r="4.7"/><circle cx="1633.1" cy="527.7" r="4.7"/><circle cx="1634.4" cy="529.5" r="4.7"/><circle cx="1224.8" cy="652.8" r="4.7"/><circle cx="1226.6" cy="651.6" r="4.7"/><circle cx="1634.4" cy="674.2" r="4.7"/><circle cx="1635.6" cy="671.4" r="4.7"/><circle cx="1636.9" cy="668.4" r="4.7"/><circle cx="1638.1" cy="668.4" r="4.7"/><circle cx="1639.3" cy="666.6" r="4.7"/><circle cx="1640.5" cy="663.4" r="4.7"/><circle cx="1641.8" cy="664.4" r="4.7"/><circle cx="1643.0" cy="662.5" r="4.7"/><circle cx="1644.2" cy="665.1" r="4.7"/><circle cx="1645.4" cy="662.4" r="4.7"/><circle cx="1646.7" cy="662.2" r="4.7"/><circle cx="1647.9" cy="662.4" r="4.7"/><circle cx="1649.1" cy="661.9" r="4.7"/><circle cx="1650.3" cy="662.0" r="4.7"/><circle cx="1651.6" cy="663.6" r="4.7"/><circle cx="1652.8" cy="662.1" r="4.7"/><circle cx="1654.0" cy="662.7" r="4.7"/><circle cx="1655.2" cy="662.9" r="4.7"/><circle cx="1656.5" cy="660.6" r="4.7"/><circle cx="1657.7" cy="663.5" r="4.7"/><circle cx="1658.9" cy="662.4" r="4.7"/><circle cx="1660.1" cy="662.6" r="4.7"/><circle cx="1661.4" cy="660.6" r="4.7"/><circle cx="1662.6" cy="662.5" r="4.7"/><circle cx="1663.8" cy="662.0" r="4.7"/><circle cx="1665.0" cy="661.0" r="4.7"/><circle cx="1666.3" cy="664.1" r="4.7"/><circle cx="1667.5" cy="662.2" r="4.7"/><circle cx="1668.7" cy="661.3" r="4.7"/><circle cx="1669.9" cy="661.7" r="4.7"/><circle cx="1671.2" cy="662.5" r="4.7"/><circle cx="1672.4" cy="662.8" r="4.7"/><circle cx="1673.6" cy="662.2" r="4.7"/><circle cx="1674.8" cy="662.9" r="4.7"/><circle cx="1676.1" cy="663.1" r="4.7"/><circle cx="1677.3" cy="660.2" r="4.7"/></g>
<polyline points="1222.5,109.1 1224.5,115.0 1226.5,120.7 1228.5,126.3 1230.5,131.7 1232.5,137.1 1234.5,142.4 1236.5,147.6 1238.5,152.6 1240.5,157.6 1242.5,162.5 1244.5,167.3 1246.5,172.0 1248.5,176.6 1250.5,181.2 1252.5,185.6 1254.5,190.0 1256.5,194.3 1258.5,198.5 1260.5,202.7 1262.5,206.7 1264.5,210.7 1266.5,214.6 1268.5,218.5 1270.5,222.3 1272.5,226.0 1274.5,229.7 1276.5,233.3 1278.5,236.8 1280.5,240.3 1282.5,243.7 1284.5,247.0 1286.5,250.3 1288.5,253.6 1290.5,256.8 1292.5,259.9 1294.5,263.0 1296.5,266.0 1298.5,269.0 1300.5,272.0 1302.5,274.9 1304.5,277.7 1306.5,280.5 1308.5,283.3 1310.5,286.0 1312.5,288.7 1314.5,291.3 1316.5,293.9 1318.5,296.5 1320.5,299.0 1322.5,301.5 1324.5,304.0 1326.5,306.4 1328.5,308.7 1330.5,311.1 1332.5,313.4 1334.5,315.7 1336.5,317.9 1338.5,320.1 1340.5,322.3 1342.5,324.5 1344.5,326.6 1346.5,328.7 1348.5,330.7 1350.5,332.8 1352.5,334.8 1354.5,336.8 1356.5,338.7 1358.5,340.7 1360.5,342.6 1362.5,344.4 1364.5,346.3 1366.5,348.1 1368.5,349.9 1370.5,351.7 1372.5,353.5 1374.5,355.2 1376.5,356.9 1378.5,358.6 1380.5,360.3 1382.5,362.0 1384.5,363.6 1386.5,365.2 1388.5,366.8 1390.5,368.3 1392.5,369.9 1394.5,371.4 1396.5,372.9 1398.5,374.4 1400.5,375.9 1402.5,377.3 1404.5,378.8 1406.5,380.2 1408.5,381.6 1410.5,382.9 1412.5,384.3 1414.5,385.6 1416.5,386.9 1418.5,388.2 1420.5,389.5 1422.5,390.8 1424.5,392.0 1426.5,393.3 1428.5,394.5 1430.5,395.7 1432.5,396.8 1434.5,398.0 1436.5,399.1 1438.5,400.2 1440.5,401.4 1442.5,402.4 1444.5,403.5 1446.5,404.6 1448.5,405.6 1450.5,406.6 1452.5,407.6 1454.5,408.6 1456.5,409.6 1458.5,410.5 1460.5,411.5 1462.5,412.4 1464.5,413.3 1466.5,414.2 1468.5,415.1 1470.5,416.0 1472.5,416.8 1474.5,417.7 1476.5,418.5 1478.5,419.3 1480.5,420.1 1482.5,420.9 1484.5,421.6 1486.5,422.4 1488.5,423.1 1490.5,423.9 1492.5,424.6 1494.5,425.3 1496.5,426.0 1498.5,426.6 1500.5,427.3 1502.5,428.0 1504.5,428.6 1506.5,429.3 1508.5,429.9 1510.5,430.5 1512.5,431.1 1514.5,431.7 1516.5,432.3 1518.5,432.9 1520.5,433.5 1522.5,434.0 1524.5,434.6 1526.5,435.1 1528.5,435.7 1530.5,436.2 1532.5,436.7 1534.5,437.3 1536.5,437.8 1538.5,438.3 1540.5,438.8 1542.5,439.3 1544.5,439.8 1546.5,440.3 1548.5,440.7 1550.5,441.2 1552.5,441.7 1554.5,442.1 1556.5,442.6 1558.5,443.0 1560.5,443.5 1562.5,443.9 1564.5,444.4 1566.5,444.8 1568.5,445.2 1570.5,445.7 1572.5,446.1 1574.5,446.5 1576.5,446.9 1578.5,447.3 1580.5,447.8 1582.5,448.2 1584.5,448.6 1586.5,449.0 1588.5,449.4 1590.5,449.8 1592.5,450.1 1594.5,450.5 1596.5,450.9 1598.5,451.3 1600.5,451.7 1602.5,452.1 1604.5,452.4 1606.5,452.8 1608.5,453.2 1610.5,453.5 1612.5,453.9 1614.5,454.2 1616.5,454.6 1618.5,455.0 1620.5,455.3 1622.5,455.6 1624.5,456.0 1626.5,456.3 1628.5,456.7 1630.5,457.0 1632.5,457.3 1634.5,457.7 1636.5,458.0 1638.5,458.3 1640.5,458.6 1642.5,459.0 1644.5,459.3 1646.5,459.6 1648.5,459.9 1650.5,460.2 1652.5,460.5 1654.5,460.8 1656.5,461.1 1658.5,461.4 1660.5,461.7 1662.5,462.0 1664.5,462.3 1666.5,462.6 1668.5,462.9 1670.5,463.1 1672.5,463.4 1674.5,463.7" fill="none" stroke="#858585" stroke-width="5.2" stroke-linejoin="round" stroke-linecap="round" stroke-linecap="butt"/>
<polyline points="1222.5,157.5 1224.5,166.6 1226.5,175.0 1228.5,182.8 1230.5,190.1 1232.5,196.9 1234.5,203.3 1236.5,209.4 1238.5,215.2 1240.5,220.8 1242.5,226.1 1244.5,231.2 1246.5,236.2 1248.5,241.0 1250.5,245.7 1252.5,250.2 1254.5,254.6 1256.5,258.9 1258.5,263.1 1260.5,267.2 1262.5,271.3 1264.5,275.2 1266.5,279.1 1268.5,282.9 1270.5,286.6 1272.5,290.3 1274.5,293.9 1276.5,297.4 1278.5,300.8 1280.5,304.2 1282.5,307.6 1284.5,310.9 1286.5,314.1 1288.5,317.3 1290.5,320.4 1292.5,323.5 1294.5,326.5 1296.5,329.4 1298.5,332.4 1300.5,335.2 1302.5,338.1 1304.5,340.8 1306.5,343.6 1308.5,346.2 1310.5,348.9 1312.5,351.5 1314.5,354.0 1316.5,356.5 1318.5,359.0 1320.5,361.4 1322.5,363.8 1324.5,366.2 1326.5,368.5 1328.5,370.8 1330.5,373.0 1332.5,375.2 1334.5,377.4 1336.5,379.5 1338.5,381.6 1340.5,383.7 1342.5,385.8 1344.5,387.8 1346.5,389.7 1348.5,391.7 1350.5,393.6 1352.5,395.5 1354.5,397.3 1356.5,399.1 1358.5,400.9 1360.5,402.7 1362.5,404.5 1364.5,406.2 1366.5,407.9 1368.5,409.5 1370.5,411.2 1372.5,412.8 1374.5,414.4 1376.5,415.9 1378.5,417.4 1380.5,419.0 1382.5,420.5 1384.5,421.9 1386.5,423.4 1388.5,424.8 1390.5,426.2 1392.5,427.6 1394.5,428.9 1396.5,430.3 1398.5,431.6 1400.5,432.9 1402.5,434.1 1404.5,435.4 1406.5,436.6 1408.5,437.8 1410.5,439.0 1412.5,440.2 1414.5,441.3 1416.5,442.5 1418.5,443.6 1420.5,444.7 1422.5,445.7 1424.5,446.8 1426.5,447.8 1428.5,448.9 1430.5,449.9 1432.5,450.8 1434.5,451.8 1436.5,452.7 1438.5,453.7 1440.5,454.6 1442.5,455.5 1444.5,456.3 1446.5,457.2 1448.5,458.0 1450.5,458.8 1452.5,459.6 1454.5,460.4 1456.5,461.2 1458.5,461.9 1460.5,462.7 1462.5,463.4 1464.5,464.1 1466.5,464.8 1468.5,465.4 1470.5,466.1 1472.5,466.7 1474.5,467.4 1476.5,468.0 1478.5,468.6 1480.5,469.1 1482.5,469.7 1484.5,470.3 1486.5,470.8 1488.5,471.4 1490.5,471.9 1492.5,472.4 1494.5,472.9 1496.5,473.4 1498.5,473.9 1500.5,474.4 1502.5,474.9 1504.5,475.3 1506.5,475.8 1508.5,476.2 1510.5,476.7 1512.5,477.1 1514.5,477.6 1516.5,478.0 1518.5,478.5 1520.5,478.9 1522.5,479.3 1524.5,479.7 1526.5,480.1 1528.5,480.6 1530.5,481.0 1532.5,481.4 1534.5,481.8 1536.5,482.2 1538.5,482.6 1540.5,483.0 1542.5,483.4 1544.5,483.8 1546.5,484.2 1548.5,484.6 1550.5,484.9 1552.5,485.3 1554.5,485.7 1556.5,486.1 1558.5,486.4 1560.5,486.8 1562.5,487.2 1564.5,487.5 1566.5,487.9 1568.5,488.2 1570.5,488.6 1572.5,488.9 1574.5,489.2 1576.5,489.5 1578.5,489.9 1580.5,490.2 1582.5,490.5 1584.5,490.8 1586.5,491.1 1588.5,491.4 1590.5,491.7 1592.5,492.0 1594.5,492.3 1596.5,492.6 1598.5,492.9 1600.5,493.1 1602.5,493.4 1604.5,493.7 1606.5,493.9 1608.5,494.2 1610.5,494.4 1612.5,494.7 1614.5,494.9 1616.5,495.2 1618.5,495.4 1620.5,495.6 1622.5,495.9 1624.5,496.1 1626.5,496.3 1628.5,496.5 1630.5,496.8 1632.5,497.0 1634.5,497.2 1636.5,497.4 1638.5,497.6 1640.5,497.8 1642.5,498.0 1644.5,498.2 1646.5,498.4 1648.5,498.6 1650.5,498.8 1652.5,498.9 1654.5,499.1 1656.5,499.3 1658.5,499.5 1660.5,499.6 1662.5,499.8 1664.5,500.0 1666.5,500.1 1668.5,500.3 1670.5,500.5 1672.5,500.6 1674.5,500.8" fill="none" stroke="#858585" stroke-width="5.2" stroke-linejoin="round" stroke-linecap="round" stroke-linecap="butt"/>
<polyline points="1222.5,253.4 1224.5,259.4 1226.5,265.0 1228.5,270.5 1230.5,275.7 1232.5,280.6 1234.5,285.4 1236.5,290.0 1238.5,294.5 1240.5,298.8 1242.5,302.9 1244.5,306.9 1246.5,310.8 1248.5,314.5 1250.5,318.2 1252.5,321.7 1254.5,325.1 1256.5,328.5 1258.5,331.7 1260.5,334.9 1262.5,338.0 1264.5,341.0 1266.5,344.0 1268.5,346.9 1270.5,349.7 1272.5,352.5 1274.5,355.2 1276.5,357.9 1278.5,360.5 1280.5,363.1 1282.5,365.6 1284.5,368.0 1286.5,370.5 1288.5,372.9 1290.5,375.2 1292.5,377.5 1294.5,379.8 1296.5,382.0 1298.5,384.2 1300.5,386.3 1302.5,388.5 1304.5,390.5 1306.5,392.6 1308.5,394.6 1310.5,396.5 1312.5,398.5 1314.5,400.4 1316.5,402.2 1318.5,404.1 1320.5,405.9 1322.5,407.6 1324.5,409.3 1326.5,411.0 1328.5,412.7 1330.5,414.3 1332.5,415.9 1334.5,417.5 1336.5,419.1 1338.5,420.6 1340.5,422.1 1342.5,423.5 1344.5,425.0 1346.5,426.4 1348.5,427.8 1350.5,429.1 1352.5,430.5 1354.5,431.8 1356.5,433.1 1358.5,434.3 1360.5,435.6 1362.5,436.8 1364.5,438.0 1366.5,439.2 1368.5,440.3 1370.5,441.5 1372.5,442.6 1374.5,443.7 1376.5,444.8 1378.5,445.8 1380.5,446.9 1382.5,447.9 1384.5,448.9 1386.5,449.9 1388.5,450.9 1390.5,451.9 1392.5,452.8 1394.5,453.8 1396.5,454.7 1398.5,455.6 1400.5,456.5 1402.5,457.4 1404.5,458.3 1406.5,459.1 1408.5,460.0 1410.5,460.8 1412.5,461.6 1414.5,462.4 1416.5,463.2 1418.5,464.0 1420.5,464.7 1422.5,465.5 1424.5,466.2 1426.5,466.9 1428.5,467.7 1430.5,468.4 1432.5,469.0 1434.5,469.7 1436.5,470.4 1438.5,471.0 1440.5,471.7 1442.5,472.3 1444.5,472.9 1446.5,473.5 1448.5,474.1 1450.5,474.7 1452.5,475.3 1454.5,475.8 1456.5,476.3 1458.5,476.9 1460.5,477.4 1462.5,477.9 1464.5,478.4 1466.5,478.8 1468.5,479.3 1470.5,479.8 1472.5,480.2 1474.5,480.6 1476.5,481.0 1478.5,481.4 1480.5,481.8 1482.5,482.2 1484.5,482.5 1486.5,482.9 1488.5,483.2 1490.5,483.6 1492.5,483.9 1494.5,484.2 1496.5,484.5 1498.5,484.8 1500.5,485.1 1502.5,485.3 1504.5,485.6 1506.5,485.9 1508.5,486.2 1510.5,486.4 1512.5,486.7 1514.5,486.9 1516.5,487.2 1518.5,487.4 1520.5,487.7 1522.5,487.9 1524.5,488.2 1526.5,488.4 1528.5,488.6 1530.5,488.9 1532.5,489.1 1534.5,489.4 1536.5,489.6 1538.5,489.9 1540.5,490.1 1542.5,490.4 1544.5,490.6 1546.5,490.9 1548.5,491.1 1550.5,491.4 1552.5,491.6 1554.5,491.9 1556.5,492.1 1558.5,492.4 1560.5,492.6 1562.5,492.9 1564.5,493.1 1566.5,493.3 1568.5,493.6 1570.5,493.8 1572.5,494.0 1574.5,494.3 1576.5,494.5 1578.5,494.7 1580.5,494.9 1582.5,495.2 1584.5,495.4 1586.5,495.6 1588.5,495.8 1590.5,496.0 1592.5,496.2 1594.5,496.4 1596.5,496.6 1598.5,496.8 1600.5,497.0 1602.5,497.1 1604.5,497.3 1606.5,497.5 1608.5,497.7 1610.5,497.9 1612.5,498.0 1614.5,498.2 1616.5,498.4 1618.5,498.5 1620.5,498.7 1622.5,498.8 1624.5,499.0 1626.5,499.2 1628.5,499.3 1630.5,499.5 1632.5,499.6 1634.5,499.7 1636.5,499.9 1638.5,500.0 1640.5,500.2 1642.5,500.3 1644.5,500.4 1646.5,500.6 1648.5,500.7 1650.5,500.8 1652.5,500.9 1654.5,501.1 1656.5,501.2 1658.5,501.3 1660.5,501.4 1662.5,501.5 1664.5,501.7 1666.5,501.8 1668.5,501.9 1670.5,502.0 1672.5,502.1 1674.5,502.2" fill="none" stroke="#858585" stroke-width="5.2" stroke-linejoin="round" stroke-linecap="round" stroke-linecap="butt"/>
<polyline points="1222.5,330.9 1224.5,336.1 1226.5,341.0 1228.5,345.7 1230.5,350.1 1232.5,354.3 1234.5,358.4 1236.5,362.3 1238.5,366.0 1240.5,369.6 1242.5,373.0 1244.5,376.3 1246.5,379.5 1248.5,382.6 1250.5,385.7 1252.5,388.6 1254.5,391.4 1256.5,394.2 1258.5,396.8 1260.5,399.4 1262.5,402.0 1264.5,404.5 1266.5,406.9 1268.5,409.2 1270.5,411.6 1272.5,413.8 1274.5,416.0 1276.5,418.2 1278.5,420.3 1280.5,422.3 1282.5,424.4 1284.5,426.3 1286.5,428.3 1288.5,430.2 1290.5,432.1 1292.5,433.9 1294.5,435.7 1296.5,437.4 1298.5,439.2 1300.5,440.9 1302.5,442.5 1304.5,444.2 1306.5,445.8 1308.5,447.3 1310.5,448.9 1312.5,450.4 1314.5,451.9 1316.5,453.3 1318.5,454.8 1320.5,456.2 1322.5,457.5 1324.5,458.9 1326.5,460.2 1328.5,461.5 1330.5,462.8 1332.5,464.1 1334.5,465.3 1336.5,466.5 1338.5,467.7 1340.5,468.9 1342.5,470.0 1344.5,471.2 1346.5,472.3 1348.5,473.4 1350.5,474.5 1352.5,475.5 1354.5,476.5 1356.5,477.6 1358.5,478.6 1360.5,479.5 1362.5,480.5 1364.5,481.4 1366.5,482.4 1368.5,483.3 1370.5,484.2 1372.5,485.1 1374.5,485.9 1376.5,486.8 1378.5,487.6 1380.5,488.4 1382.5,489.2 1384.5,490.0 1386.5,490.8 1388.5,491.6 1390.5,492.3 1392.5,493.0 1394.5,493.8 1396.5,494.5 1398.5,495.2 1400.5,495.8 1402.5,496.5 1404.5,497.2 1406.5,497.8 1408.5,498.5 1410.5,499.1 1412.5,499.7 1414.5,500.3 1416.5,500.9 1418.5,501.5 1420.5,502.1 1422.5,502.6 1424.5,503.2 1426.5,503.7 1428.5,504.3 1430.5,504.8 1432.5,505.3 1434.5,505.8 1436.5,506.3 1438.5,506.8 1440.5,507.3 1442.5,507.7 1444.5,508.2 1446.5,508.6 1448.5,509.1 1450.5,509.5 1452.5,510.0 1454.5,510.4 1456.5,510.8 1458.5,511.2 1460.5,511.6 1462.5,512.0 1464.5,512.4 1466.5,512.8 1468.5,513.1 1470.5,513.5 1472.5,513.9 1474.5,514.2 1476.5,514.6 1478.5,514.9 1480.5,515.2 1482.5,515.6 1484.5,515.9 1486.5,516.2 1488.5,516.5 1490.5,516.8 1492.5,517.1 1494.5,517.4 1496.5,517.7 1498.5,518.0 1500.5,518.3 1502.5,518.5 1504.5,518.8 1506.5,519.1 1508.5,519.3 1510.5,519.6 1512.5,519.9 1514.5,520.1 1516.5,520.3 1518.5,520.6 1520.5,520.8 1522.5,521.0 1524.5,521.3 1526.5,521.5 1528.5,521.7 1530.5,521.9 1532.5,522.1 1534.5,522.3 1536.5,522.5 1538.5,522.7 1540.5,522.9 1542.5,523.1 1544.5,523.3 1546.5,523.5 1548.5,523.7 1550.5,523.9 1552.5,524.0 1554.5,524.2 1556.5,524.4 1558.5,524.6 1560.5,524.7 1562.5,524.9 1564.5,525.0 1566.5,525.2 1568.5,525.3 1570.5,525.5 1572.5,525.6 1574.5,525.8 1576.5,525.9 1578.5,526.1 1580.5,526.2 1582.5,526.3 1584.5,526.5 1586.5,526.6 1588.5,526.7 1590.5,526.8 1592.5,527.0 1594.5,527.1 1596.5,527.2 1598.5,527.3 1600.5,527.4 1602.5,527.6 1604.5,527.7 1606.5,527.8 1608.5,527.9 1610.5,528.0 1612.5,528.1 1614.5,528.2 1616.5,528.3 1618.5,528.4 1620.5,528.5 1622.5,528.6 1624.5,528.7 1626.5,528.8 1628.5,528.8 1630.5,528.9 1632.5,529.0 1634.5,529.1 1636.5,529.2 1638.5,529.3 1640.5,529.3 1642.5,529.4 1644.5,529.5 1646.5,529.6 1648.5,529.7 1650.5,529.7 1652.5,529.8 1654.5,529.9 1656.5,529.9 1658.5,530.0 1660.5,530.1 1662.5,530.1 1664.5,530.2 1666.5,530.3 1668.5,530.3 1670.5,530.4 1672.5,530.5 1674.5,530.5" fill="none" stroke="#858585" stroke-width="5.2" stroke-linejoin="round" stroke-linecap="round" stroke-linecap="butt"/>
<line x1="1284.3" y1="563.5" x2="1284.3" y2="468" stroke="#3a3a3a" stroke-width="1.6" />
<polygon points="1284.3,455.0 1288.8,470.0 1279.8,470.0" fill="#111"/>
<line x1="1339.3" y1="569.6" x2="1337.94" y2="440.5" stroke="#3a3a3a" stroke-width="1.6" />
<polygon points="1337.8,427.5 1342.5,442.5 1333.5,442.5" fill="#111"/>
<line x1="1391.3" y1="571.1" x2="1381.56" y2="438.96" stroke="#3a3a3a" stroke-width="1.6" />
<polygon points="1380.6,426.0 1386.2,440.6 1377.2,441.3" fill="#111"/>
<line x1="1547.2" y1="595.6" x2="1513.62" y2="460.02" stroke="#3a3a3a" stroke-width="1.6" />
<polygon points="1510.5,447.4 1518.5,460.9 1509.7,463.0" fill="#111"/>
<text transform="matrix(1.2560 0 0 1 1269.99 605.91)" font-size="39.46" fill="#181818">d</text>
<text transform="matrix(1.2733 0 0 1 1326.48 610.51)" font-size="39.09" fill="#181818">c</text>
<text transform="matrix(1.0834 0 0 1 1385.33 609.89)" font-size="40.82" fill="#181818">b</text>
<text transform="matrix(1.0353 0 0 1 1532.16 633.38)" font-size="41.83" fill="#181818">a</text>
</g>
<g id="panelC">
<line x1="1841" y1="133" x2="1841" y2="606.5" stroke="#6a6a6a" stroke-width="1.7" />
<line x1="1932" y1="133" x2="1932" y2="606.5" stroke="#6a6a6a" stroke-width="1.7" />
<line x1="2023" y1="133" x2="2023" y2="606.5" stroke="#6a6a6a" stroke-width="1.7" />
<line x1="2114" y1="133" x2="2114" y2="606.5" stroke="#6a6a6a" stroke-width="1.7" />
<line x1="2205" y1="133" x2="2205" y2="606.5" stroke="#6a6a6a" stroke-width="1.7" />
<line x1="2296" y1="133" x2="2296" y2="606.5" stroke="#6a6a6a" stroke-width="1.7" />
<line x1="1795.5" y1="479.9" x2="2342" y2="479.9" stroke="#6a6a6a" stroke-width="1.7" />
<line x1="1795.5" y1="353.3" x2="2342" y2="353.3" stroke="#6a6a6a" stroke-width="1.7" />
<line x1="1795.5" y1="226.7" x2="2342" y2="226.7" stroke="#6a6a6a" stroke-width="1.7" />
<rect x="1795.5" y="133" width="546.5" height="473.5" fill="none" stroke="#333" stroke-width="2.4"/>
<line x1="1841" y1="606.5" x2="1841" y2="599.5" stroke="#333" stroke-width="2" />
<line x1="1841" y1="133" x2="1841" y2="140" stroke="#333" stroke-width="2" />
<line x1="1886.5" y1="606.5" x2="1886.5" y2="601.5" stroke="#333" stroke-width="2" />
<line x1="1886.5" y1="133" x2="1886.5" y2="138" stroke="#333" stroke-width="2" />
<line x1="1932" y1="606.5" x2="1932" y2="599.5" stroke="#333" stroke-width="2" />
<line x1="1932" y1="133" x2="1932" y2="140" stroke="#333" stroke-width="2" />
<line x1="1977.5" y1="606.5" x2="1977.5" y2="601.5" stroke="#333" stroke-width="2" />
<line x1="1977.5" y1="133" x2="1977.5" y2="138" stroke="#333" stroke-width="2" />
<line x1="2023" y1="606.5" x2="2023" y2="599.5" stroke="#333" stroke-width="2" />
<line x1="2023" y1="133" x2="2023" y2="140" stroke="#333" stroke-width="2" />
<line x1="2068.5" y1="606.5" x2="2068.5" y2="601.5" stroke="#333" stroke-width="2" />
<line x1="2068.5" y1="133" x2="2068.5" y2="138" stroke="#333" stroke-width="2" />
<line x1="2114" y1="606.5" x2="2114" y2="599.5" stroke="#333" stroke-width="2" />
<line x1="2114" y1="133" x2="2114" y2="140" stroke="#333" stroke-width="2" />
<line x1="2159.5" y1="606.5" x2="2159.5" y2="601.5" stroke="#333" stroke-width="2" />
<line x1="2159.5" y1="133" x2="2159.5" y2="138" stroke="#333" stroke-width="2" />
<line x1="2205" y1="606.5" x2="2205" y2="599.5" stroke="#333" stroke-width="2" />
<line x1="2205" y1="133" x2="2205" y2="140" stroke="#333" stroke-width="2" />
<line x1="2250.5" y1="606.5" x2="2250.5" y2="601.5" stroke="#333" stroke-width="2" />
<line x1="2250.5" y1="133" x2="2250.5" y2="138" stroke="#333" stroke-width="2" />
<line x1="2296" y1="606.5" x2="2296" y2="599.5" stroke="#333" stroke-width="2" />
<line x1="2296" y1="133" x2="2296" y2="140" stroke="#333" stroke-width="2" />
<line x1="1795.5" y1="543.2" x2="1800.5" y2="543.2" stroke="#333" stroke-width="2" />
<line x1="2342" y1="543.2" x2="2337" y2="543.2" stroke="#333" stroke-width="2" />
<line x1="1795.5" y1="479.9" x2="1802.5" y2="479.9" stroke="#333" stroke-width="2" />
<line x1="2342" y1="479.9" x2="2335" y2="479.9" stroke="#333" stroke-width="2" />
<line x1="1795.5" y1="416.6" x2="1800.5" y2="416.6" stroke="#333" stroke-width="2" />
<line x1="2342" y1="416.6" x2="2337" y2="416.6" stroke="#333" stroke-width="2" />
<line x1="1795.5" y1="353.3" x2="1802.5" y2="353.3" stroke="#333" stroke-width="2" />
<line x1="2342" y1="353.3" x2="2335" y2="353.3" stroke="#333" stroke-width="2" />
<line x1="1795.5" y1="290" x2="1800.5" y2="290" stroke="#333" stroke-width="2" />
<line x1="2342" y1="290" x2="2337" y2="290" stroke="#333" stroke-width="2" />
<line x1="1795.5" y1="226.7" x2="1802.5" y2="226.7" stroke="#333" stroke-width="2" />
<line x1="2342" y1="226.7" x2="2335" y2="226.7" stroke="#333" stroke-width="2" />
<line x1="1795.5" y1="163.4" x2="1800.5" y2="163.4" stroke="#333" stroke-width="2" />
<line x1="2342" y1="163.4" x2="2337" y2="163.4" stroke="#333" stroke-width="2" />
<text transform="matrix(1.0971 0 0 1 1769.30 614.99)" font-size="27.80" fill="#181818">2</text>
<text transform="matrix(1.0971 0 0 1 1768.61 488.91)" font-size="27.80" fill="#181818">4</text>
<text transform="matrix(1.0971 0 0 1 1769.07 361.99)" font-size="27.80" fill="#181818">6</text>
<text transform="matrix(1.0971 0 0 1 1769.07 235.29)" font-size="27.80" fill="#181818">8</text>
<text transform="matrix(1.0971 0 0 1 1832.50 636.39)" font-size="27.80" fill="#181818">0</text>
<text transform="matrix(1.0971 0 0 1 1923.12 636.11)" font-size="27.80" fill="#181818">1</text>
<text transform="matrix(1.0971 0 0 1 2014.54 636.39)" font-size="27.80" fill="#181818">2</text>
<text transform="matrix(1.0971 0 0 1 2105.61 636.39)" font-size="27.80" fill="#181818">3</text>
<text transform="matrix(1.0971 0 0 1 2196.61 636.11)" font-size="27.80" fill="#181818">4</text>
<text transform="matrix(1.0971 0 0 1 2287.54 636.11)" font-size="27.80" fill="#181818">5</text>
<text transform="matrix(1.1693 0 0 1 1951.61 689.20)" font-size="32.82" fill="#181818">[FTY720], μM</text>
<text transform="matrix(1.0592 0 0 1 1774.87 74.93)" font-size="57.24" fill="#181818">C</text>
<text transform="matrix(0 -0.8796 1 0 1744.22 475.18)" font-size="37.55" fill="#181818">1/τ</text>
<text transform="matrix(0 -0.9817 1 0 1759.43 433.81)" font-size="27.35" fill="#181818">inact</text>
<text transform="matrix(0 -0.9248 1 0 1744.78 366.70)" font-size="36.25" fill="#181818">(1/sec)</text>
<line x1="1868.3" y1="514.05" x2="2296" y2="215.31" stroke="#cc3030" stroke-width="2.8" />
<line x1="1841.4" y1="531.1" x2="1841.4" y2="556.4" stroke="#2a2ab4" stroke-width="2.3" />
<line x1="1832.8" y1="531.1" x2="1850" y2="531.1" stroke="#2a2ab4" stroke-width="2.3" />
<line x1="1832.8" y1="556.4" x2="1850" y2="556.4" stroke="#2a2ab4" stroke-width="2.3" />
<rect x="1833.8" y="537.3" width="15.2" height="12.4" fill="#fff" stroke="#1a1aa6" stroke-width="2.6"/>
<line x1="1849.7" y1="508.8" x2="1849.7" y2="547" stroke="#2a2ab4" stroke-width="2.3" />
<line x1="1841.1" y1="508.8" x2="1858.3" y2="508.8" stroke="#2a2ab4" stroke-width="2.3" />
<line x1="1841.1" y1="547" x2="1858.3" y2="547" stroke="#2a2ab4" stroke-width="2.3" />
<rect x="1842.1" y="521.6" width="15.2" height="12.4" fill="#fff" stroke="#1a1aa6" stroke-width="2.6"/>
<line x1="1868.3" y1="489.4" x2="1868.3" y2="540.3" stroke="#2a2ab4" stroke-width="2.3" />
<line x1="1859.7" y1="489.4" x2="1876.9" y2="489.4" stroke="#2a2ab4" stroke-width="2.3" />
<line x1="1859.7" y1="540.3" x2="1876.9" y2="540.3" stroke="#2a2ab4" stroke-width="2.3" />
<rect x="1860.7" y="508.5" width="15.2" height="12.4" fill="#fff" stroke="#1a1aa6" stroke-width="2.6"/>
<line x1="1931.7" y1="440.6" x2="1931.7" y2="503.6" stroke="#2a2ab4" stroke-width="2.3" />
<line x1="1923.1" y1="440.6" x2="1940.3" y2="440.6" stroke="#2a2ab4" stroke-width="2.3" />
<line x1="1923.1" y1="503.6" x2="1940.3" y2="503.6" stroke="#2a2ab4" stroke-width="2.3" />
<rect x="1924.1" y="465.2" width="15.2" height="12.4" fill="#fff" stroke="#1a1aa6" stroke-width="2.6"/>
<line x1="2113.8" y1="303.5" x2="2113.8" y2="379.5" stroke="#2a2ab4" stroke-width="2.3" />
<line x1="2105.2" y1="303.5" x2="2122.4" y2="303.5" stroke="#2a2ab4" stroke-width="2.3" />
<line x1="2105.2" y1="379.5" x2="2122.4" y2="379.5" stroke="#2a2ab4" stroke-width="2.3" />
<rect x="2106.2" y="335.5" width="15.2" height="12.4" fill="#fff" stroke="#1a1aa6" stroke-width="2.6"/>
<line x1="2296.4" y1="177" x2="2296.4" y2="253.1" stroke="#2a2ab4" stroke-width="2.3" />
<line x1="2287.8" y1="177" x2="2305" y2="177" stroke="#2a2ab4" stroke-width="2.3" />
<line x1="2287.8" y1="253.1" x2="2305" y2="253.1" stroke="#2a2ab4" stroke-width="2.3" />
<rect x="2288.8" y="208.3" width="15.2" height="12.4" fill="#fff" stroke="#1a1aa6" stroke-width="2.6"/>
</g>
</svg>
</body></html>
